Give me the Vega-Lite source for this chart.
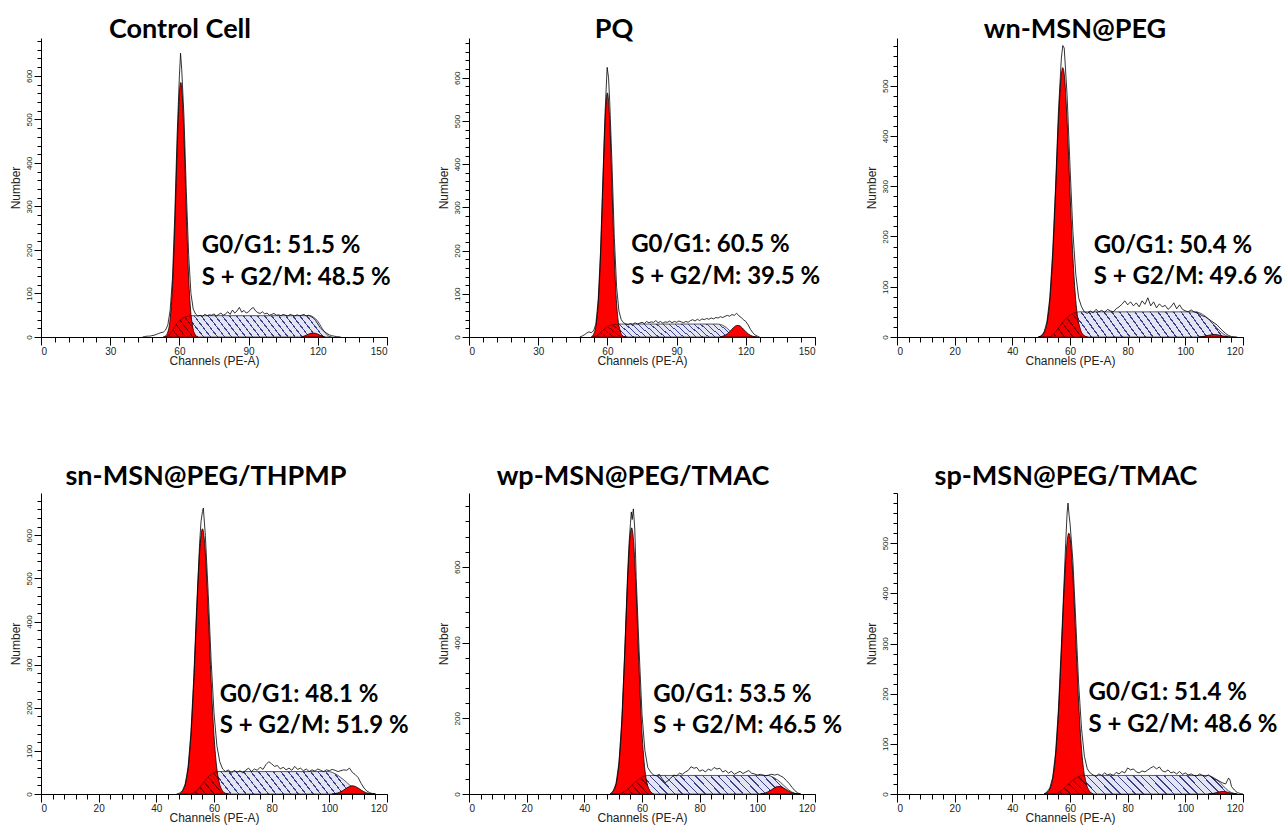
{
"$schema": "https://vega.github.io/schema/vega-lite/v6.json",
"background": "white",
"padding": {"left": 8, "top": 16, "right": 2, "bottom": 2},
"config": {
  "view": {"stroke": null},
  "axis": {"grid": false, "domainColor": "#000", "tickColor": "#000", "labelColor": "#222", "labelFont": "Liberation Sans", "titleFont": "Liberation Sans", "titleFontWeight": "normal", "titleColor": "#222", "domainWidth": 1, "tickWidth": 1, "labelOverlap": false},
  "title": {"font": "Lato", "fontSize": 27, "fontWeight": "bold", "color": "#000", "anchor": "middle", "offset": 2}
},
"datasets": {
"p1": [
{"part":"r","ch":44,"count":0},{"part":"r","ch":45,"count":1},{"part":"r","ch":46,"count":2},{"part":"r","ch":47,"count":2},{"part":"r","ch":48,"count":3},{"part":"r","ch":49,"count":4},{"part":"r","ch":50,"count":6},{"part":"r","ch":51,"count":8},{"part":"r","ch":52,"count":10},{"part":"r","ch":53,"count":11},{"part":"r","ch":54,"count":16},{"part":"r","ch":55,"count":28},{"part":"r","ch":56,"count":62},{"part":"r","ch":57,"count":135},{"part":"r","ch":58,"count":280},{"part":"r","ch":59,"count":460},{"part":"r","ch":60,"count":600},{"part":"r","ch":60.5,"count":652},{"part":"r","ch":61,"count":615},{"part":"r","ch":62,"count":505},{"part":"r","ch":63,"count":335},{"part":"r","ch":64,"count":190},{"part":"r","ch":65,"count":100},{"part":"r","ch":66,"count":64},{"part":"r","ch":67,"count":53},{"part":"r","ch":68,"count":48},{"part":"r","ch":69,"count":50},{"part":"r","ch":70,"count":47},{"part":"r","ch":71,"count":52},{"part":"r","ch":72,"count":49},{"part":"r","ch":73,"count":51},{"part":"r","ch":74,"count":50},{"part":"r","ch":75,"count":53},{"part":"r","ch":76,"count":48},{"part":"r","ch":77,"count":52},{"part":"r","ch":78,"count":55},{"part":"r","ch":79,"count":50},{"part":"r","ch":80,"count":53},{"part":"r","ch":81,"count":58},{"part":"r","ch":82,"count":52},{"part":"r","ch":83,"count":62},{"part":"r","ch":84,"count":55},{"part":"r","ch":85,"count":60},{"part":"r","ch":86,"count":68},{"part":"r","ch":87,"count":57},{"part":"r","ch":88,"count":61},{"part":"r","ch":89,"count":55},{"part":"r","ch":90,"count":58},{"part":"r","ch":91,"count":64},{"part":"r","ch":92,"count":68},{"part":"r","ch":93,"count":60},{"part":"r","ch":94,"count":56},{"part":"r","ch":95,"count":54},{"part":"r","ch":96,"count":58},{"part":"r","ch":97,"count":53},{"part":"r","ch":98,"count":55},{"part":"r","ch":99,"count":50},{"part":"r","ch":100,"count":52},{"part":"r","ch":101,"count":54},{"part":"r","ch":102,"count":50},{"part":"r","ch":103,"count":51},{"part":"r","ch":104,"count":49},{"part":"r","ch":105,"count":52},{"part":"r","ch":106,"count":50},{"part":"r","ch":107,"count":48},{"part":"r","ch":108,"count":52},{"part":"r","ch":109,"count":50},{"part":"r","ch":110,"count":48},{"part":"r","ch":111,"count":51},{"part":"r","ch":112,"count":49},{"part":"r","ch":113,"count":50},{"part":"r","ch":114,"count":52},{"part":"r","ch":115,"count":48},{"part":"r","ch":116,"count":50},{"part":"r","ch":117,"count":47},{"part":"r","ch":118,"count":44},{"part":"r","ch":119,"count":38},{"part":"r","ch":120,"count":30},{"part":"r","ch":121,"count":22},{"part":"r","ch":122,"count":16},{"part":"r","ch":123,"count":12},{"part":"r","ch":124,"count":8},{"part":"r","ch":125,"count":5},{"part":"r","ch":126,"count":3},{"part":"r","ch":128,"count":1},{"part":"r","ch":130,"count":0},
{"part":"s","ch":54,"count":0},{"part":"s","ch":55,"count":3},{"part":"s","ch":56,"count":8},{"part":"s","ch":57,"count":15},{"part":"s","ch":58,"count":24},{"part":"s","ch":59,"count":32},{"part":"s","ch":60,"count":38},{"part":"s","ch":61,"count":42},{"part":"s","ch":62,"count":45},{"part":"s","ch":63,"count":47},{"part":"s","ch":64,"count":48},{"part":"s","ch":65,"count":49},{"part":"s","ch":117,"count":49},{"part":"s","ch":118,"count":46},{"part":"s","ch":119,"count":42},{"part":"s","ch":120,"count":36},{"part":"s","ch":121,"count":28},{"part":"s","ch":122,"count":19},{"part":"s","ch":123,"count":11},{"part":"s","ch":124,"count":5},{"part":"s","ch":125,"count":1},{"part":"s","ch":126,"count":0},
{"part":"o","ch":54,"count":0},{"part":"o","ch":55,"count":3},{"part":"o","ch":56,"count":8},{"part":"o","ch":57,"count":15},{"part":"o","ch":58,"count":24},{"part":"o","ch":59,"count":32},{"part":"o","ch":60,"count":38},{"part":"o","ch":61,"count":42},{"part":"o","ch":62,"count":45},{"part":"o","ch":63,"count":47},{"part":"o","ch":64,"count":48},{"part":"o","ch":65,"count":49},{"part":"o","ch":66,"count":15},{"part":"o","ch":67,"count":3.5},{"part":"o","ch":68,"count":0},
{"part":"g1","ch":53,"count":0},{"part":"g1","ch":54,"count":2.5},{"part":"g1","ch":55,"count":11.6},{"part":"g1","ch":56,"count":41.5},{"part":"g1","ch":57,"count":115.8},{"part":"g1","ch":58,"count":251},{"part":"g1","ch":59,"count":425},{"part":"g1","ch":60,"count":559},{"part":"g1","ch":60.6,"count":585},{"part":"g1","ch":61,"count":573},{"part":"g1","ch":62,"count":458},{"part":"g1","ch":63,"count":285},{"part":"g1","ch":64,"count":138},{"part":"g1","ch":65,"count":52},{"part":"g1","ch":66,"count":15.3},{"part":"g1","ch":67,"count":3.5},{"part":"g1","ch":68,"count":0},
{"part":"g2","ch":113,"count":0},{"part":"g2","ch":114,"count":2},{"part":"g2","ch":115,"count":4},{"part":"g2","ch":116,"count":6.5},{"part":"g2","ch":117,"count":8.5},{"part":"g2","ch":118,"count":9},{"part":"g2","ch":119,"count":8.5},{"part":"g2","ch":120,"count":6.5},{"part":"g2","ch":121,"count":4},{"part":"g2","ch":122,"count":2},{"part":"g2","ch":123,"count":0},
{"part":"t","ch":69.7,"count":208,"label":"G0/G1: 51.5 %"},{"part":"t","ch":69.7,"count":136,"label":"S + G2/M: 48.5 %"}
],
"p2": [
{"part":"r","ch":48,"count":0},{"part":"r","ch":49,"count":2},{"part":"r","ch":50,"count":5},{"part":"r","ch":51,"count":9},{"part":"r","ch":52,"count":12},{"part":"r","ch":53,"count":10},{"part":"r","ch":54,"count":14},{"part":"r","ch":55,"count":30},{"part":"r","ch":56,"count":85},{"part":"r","ch":57,"count":195},{"part":"r","ch":58,"count":360},{"part":"r","ch":59,"count":520},{"part":"r","ch":59.9,"count":624},{"part":"r","ch":60.5,"count":600},{"part":"r","ch":61,"count":545},{"part":"r","ch":62,"count":400},{"part":"r","ch":63,"count":230},{"part":"r","ch":64,"count":115},{"part":"r","ch":65,"count":60},{"part":"r","ch":66,"count":40},{"part":"r","ch":67,"count":33},{"part":"r","ch":68,"count":30},{"part":"r","ch":69,"count":28},{"part":"r","ch":70,"count":31},{"part":"r","ch":71,"count":29},{"part":"r","ch":72,"count":33},{"part":"r","ch":73,"count":30},{"part":"r","ch":74,"count":32},{"part":"r","ch":75,"count":34},{"part":"r","ch":76,"count":31},{"part":"r","ch":77,"count":36},{"part":"r","ch":78,"count":33},{"part":"r","ch":79,"count":35},{"part":"r","ch":80,"count":34},{"part":"r","ch":81,"count":38},{"part":"r","ch":82,"count":33},{"part":"r","ch":83,"count":36},{"part":"r","ch":84,"count":32},{"part":"r","ch":85,"count":35},{"part":"r","ch":86,"count":34},{"part":"r","ch":87,"count":37},{"part":"r","ch":88,"count":33},{"part":"r","ch":89,"count":36},{"part":"r","ch":90,"count":34},{"part":"r","ch":91,"count":37},{"part":"r","ch":92,"count":35},{"part":"r","ch":93,"count":33},{"part":"r","ch":94,"count":36},{"part":"r","ch":95,"count":34},{"part":"r","ch":96,"count":38},{"part":"r","ch":97,"count":40},{"part":"r","ch":98,"count":37},{"part":"r","ch":99,"count":41},{"part":"r","ch":100,"count":38},{"part":"r","ch":101,"count":42},{"part":"r","ch":102,"count":40},{"part":"r","ch":103,"count":43},{"part":"r","ch":104,"count":41},{"part":"r","ch":105,"count":44},{"part":"r","ch":106,"count":42},{"part":"r","ch":107,"count":45},{"part":"r","ch":108,"count":44},{"part":"r","ch":109,"count":47},{"part":"r","ch":110,"count":45},{"part":"r","ch":111,"count":48},{"part":"r","ch":112,"count":50},{"part":"r","ch":113,"count":48},{"part":"r","ch":114,"count":52},{"part":"r","ch":115,"count":50},{"part":"r","ch":116,"count":55},{"part":"r","ch":117,"count":49},{"part":"r","ch":118,"count":45},{"part":"r","ch":119,"count":40},{"part":"r","ch":120,"count":36},{"part":"r","ch":121,"count":28},{"part":"r","ch":122,"count":18},{"part":"r","ch":123,"count":10},{"part":"r","ch":124,"count":5},{"part":"r","ch":125,"count":2},{"part":"r","ch":126,"count":0},
{"part":"s","ch":54,"count":0},{"part":"s","ch":55,"count":2},{"part":"s","ch":56,"count":5},{"part":"s","ch":57,"count":10},{"part":"s","ch":58,"count":15},{"part":"s","ch":59,"count":20},{"part":"s","ch":60,"count":24},{"part":"s","ch":61,"count":27},{"part":"s","ch":62,"count":28},{"part":"s","ch":63,"count":29},{"part":"s","ch":65,"count":30},{"part":"s","ch":108,"count":30},{"part":"s","ch":109,"count":29},{"part":"s","ch":110,"count":27},{"part":"s","ch":111,"count":24},{"part":"s","ch":112,"count":20},{"part":"s","ch":113,"count":15},{"part":"s","ch":114,"count":10},{"part":"s","ch":115,"count":6},{"part":"s","ch":116,"count":3},{"part":"s","ch":117,"count":1},{"part":"s","ch":118,"count":0},
{"part":"o","ch":54,"count":0},{"part":"o","ch":55,"count":2},{"part":"o","ch":56,"count":5},{"part":"o","ch":57,"count":10},{"part":"o","ch":58,"count":15},{"part":"o","ch":59,"count":20},{"part":"o","ch":60,"count":24},{"part":"o","ch":61,"count":27},{"part":"o","ch":62,"count":28},{"part":"o","ch":63,"count":29},{"part":"o","ch":64,"count":29.5},{"part":"o","ch":65,"count":24.8},{"part":"o","ch":66,"count":6.3},{"part":"o","ch":67,"count":1.2},{"part":"o","ch":68,"count":0},
{"part":"g1","ch":53,"count":0},{"part":"g1","ch":54,"count":6.3},{"part":"g1","ch":55,"count":24.8},{"part":"g1","ch":56,"count":76.5},{"part":"g1","ch":57,"count":183},{"part":"g1","ch":58,"count":343},{"part":"g1","ch":59,"count":499},{"part":"g1","ch":60,"count":565},{"part":"g1","ch":61,"count":499},{"part":"g1","ch":62,"count":343},{"part":"g1","ch":63,"count":183},{"part":"g1","ch":64,"count":76.5},{"part":"g1","ch":65,"count":24.8},{"part":"g1","ch":66,"count":6.3},{"part":"g1","ch":67,"count":1.2},{"part":"g1","ch":68,"count":0},
{"part":"g2","ch":109,"count":0},{"part":"g2","ch":110,"count":1.8},{"part":"g2","ch":111,"count":3.9},{"part":"g2","ch":112,"count":7.4},{"part":"g2","ch":113,"count":12.4},{"part":"g2","ch":114,"count":18.1},{"part":"g2","ch":115,"count":23.4},{"part":"g2","ch":116,"count":26.6},{"part":"g2","ch":117,"count":26.6},{"part":"g2","ch":118,"count":23.4},{"part":"g2","ch":119,"count":18.1},{"part":"g2","ch":120,"count":12.4},{"part":"g2","ch":121,"count":7.4},{"part":"g2","ch":122,"count":3.9},{"part":"g2","ch":123,"count":1.8},{"part":"g2","ch":124,"count":0.6},{"part":"g2","ch":125,"count":0},
{"part":"t","ch":70.3,"count":212,"label":"G0/G1: 60.5 %"},{"part":"t","ch":70.3,"count":139,"label":"S + G2/M: 39.5 %"}
],
"p3": [
{"part":"r","ch":49,"count":0},{"part":"r","ch":50,"count":2},{"part":"r","ch":51,"count":10},{"part":"r","ch":52,"count":30},{"part":"r","ch":53,"count":78},{"part":"r","ch":54,"count":170},{"part":"r","ch":55,"count":300},{"part":"r","ch":56,"count":450},{"part":"r","ch":57,"count":555},{"part":"r","ch":57.5,"count":580},{"part":"r","ch":58,"count":575},{"part":"r","ch":59,"count":480},{"part":"r","ch":60,"count":340},{"part":"r","ch":61,"count":210},{"part":"r","ch":62,"count":125},{"part":"r","ch":63,"count":78},{"part":"r","ch":64,"count":60},{"part":"r","ch":65,"count":50},{"part":"r","ch":66,"count":47},{"part":"r","ch":67,"count":52},{"part":"r","ch":68,"count":48},{"part":"r","ch":69,"count":55},{"part":"r","ch":70,"count":50},{"part":"r","ch":71,"count":53},{"part":"r","ch":72,"count":49},{"part":"r","ch":73,"count":55},{"part":"r","ch":74,"count":52},{"part":"r","ch":75,"count":50},{"part":"r","ch":76,"count":56},{"part":"r","ch":77,"count":60},{"part":"r","ch":78,"count":65},{"part":"r","ch":79,"count":72},{"part":"r","ch":80,"count":64},{"part":"r","ch":81,"count":70},{"part":"r","ch":82,"count":62},{"part":"r","ch":83,"count":68},{"part":"r","ch":84,"count":60},{"part":"r","ch":85,"count":72},{"part":"r","ch":86,"count":65},{"part":"r","ch":87,"count":78},{"part":"r","ch":88,"count":62},{"part":"r","ch":89,"count":70},{"part":"r","ch":90,"count":58},{"part":"r","ch":91,"count":66},{"part":"r","ch":92,"count":60},{"part":"r","ch":93,"count":63},{"part":"r","ch":94,"count":55},{"part":"r","ch":95,"count":60},{"part":"r","ch":96,"count":68},{"part":"r","ch":97,"count":56},{"part":"r","ch":98,"count":64},{"part":"r","ch":99,"count":55},{"part":"r","ch":100,"count":52},{"part":"r","ch":101,"count":50},{"part":"r","ch":102,"count":54},{"part":"r","ch":103,"count":50},{"part":"r","ch":104,"count":48},{"part":"r","ch":105,"count":45},{"part":"r","ch":106,"count":42},{"part":"r","ch":107,"count":40},{"part":"r","ch":108,"count":36},{"part":"r","ch":109,"count":32},{"part":"r","ch":110,"count":28},{"part":"r","ch":111,"count":24},{"part":"r","ch":112,"count":18},{"part":"r","ch":113,"count":12},{"part":"r","ch":114,"count":7},{"part":"r","ch":115,"count":3},{"part":"r","ch":116,"count":1},{"part":"r","ch":118,"count":0},
{"part":"s","ch":53,"count":0},{"part":"s","ch":54,"count":4},{"part":"s","ch":55,"count":10},{"part":"s","ch":56,"count":18},{"part":"s","ch":57,"count":26},{"part":"s","ch":58,"count":33},{"part":"s","ch":59,"count":39},{"part":"s","ch":60,"count":44},{"part":"s","ch":61,"count":47},{"part":"s","ch":62,"count":49},{"part":"s","ch":63,"count":50},{"part":"s","ch":104,"count":50},{"part":"s","ch":105,"count":48},{"part":"s","ch":106,"count":45},{"part":"s","ch":107,"count":41},{"part":"s","ch":108,"count":36},{"part":"s","ch":109,"count":30},{"part":"s","ch":110,"count":24},{"part":"s","ch":111,"count":18},{"part":"s","ch":112,"count":12},{"part":"s","ch":113,"count":7},{"part":"s","ch":114,"count":3},{"part":"s","ch":115,"count":1},{"part":"s","ch":116,"count":0},
{"part":"o","ch":53,"count":0},{"part":"o","ch":54,"count":4},{"part":"o","ch":55,"count":10},{"part":"o","ch":56,"count":18},{"part":"o","ch":57,"count":26},{"part":"o","ch":58,"count":33},{"part":"o","ch":59,"count":39},{"part":"o","ch":60,"count":44},{"part":"o","ch":61,"count":47},{"part":"o","ch":62,"count":49},{"part":"o","ch":63,"count":27},{"part":"o","ch":64,"count":8.3},{"part":"o","ch":65,"count":2.1},{"part":"o","ch":66,"count":0},
{"part":"g1","ch":49,"count":0},{"part":"g1","ch":50,"count":2.1},{"part":"g1","ch":51,"count":8.3},{"part":"g1","ch":52,"count":27},{"part":"g1","ch":53,"count":72.5},{"part":"g1","ch":54,"count":160},{"part":"g1","ch":55,"count":289},{"part":"g1","ch":56,"count":429},{"part":"g1","ch":57,"count":523},{"part":"g1","ch":57.5,"count":536},{"part":"g1","ch":58,"count":523},{"part":"g1","ch":59,"count":429},{"part":"g1","ch":60,"count":289},{"part":"g1","ch":61,"count":160},{"part":"g1","ch":62,"count":72.5},{"part":"g1","ch":63,"count":27},{"part":"g1","ch":64,"count":8.3},{"part":"g1","ch":65,"count":2.1},{"part":"g1","ch":66,"count":0},
{"part":"g2","ch":105,"count":0},{"part":"g2","ch":106,"count":1},{"part":"g2","ch":107,"count":2},{"part":"g2","ch":108,"count":3.3},{"part":"g2","ch":109,"count":4.5},{"part":"g2","ch":110,"count":5},{"part":"g2","ch":111,"count":4.5},{"part":"g2","ch":112,"count":3.3},{"part":"g2","ch":113,"count":2},{"part":"g2","ch":114,"count":1},{"part":"g2","ch":115,"count":0},
{"part":"t","ch":68.2,"count":182,"label":"G0/G1: 50.4 %"},{"part":"t","ch":68.2,"count":119,"label":"S + G2/M: 49.6 %"}
],
"p4": [
{"part":"r","ch":47,"count":0},{"part":"r","ch":48,"count":2},{"part":"r","ch":49,"count":7},{"part":"r","ch":50,"count":23},{"part":"r","ch":51,"count":62},{"part":"r","ch":52,"count":142},{"part":"r","ch":53,"count":272},{"part":"r","ch":54,"count":435},{"part":"r","ch":55,"count":580},{"part":"r","ch":55.5,"count":632},{"part":"r","ch":56,"count":655},{"part":"r","ch":56.3,"count":663},{"part":"r","ch":57,"count":600},{"part":"r","ch":58,"count":465},{"part":"r","ch":59,"count":310},{"part":"r","ch":60,"count":188},{"part":"r","ch":61,"count":112},{"part":"r","ch":62,"count":75},{"part":"r","ch":63,"count":58},{"part":"r","ch":64,"count":52},{"part":"r","ch":65,"count":56},{"part":"r","ch":66,"count":48},{"part":"r","ch":67,"count":55},{"part":"r","ch":68,"count":50},{"part":"r","ch":69,"count":54},{"part":"r","ch":70,"count":49},{"part":"r","ch":71,"count":55},{"part":"r","ch":72,"count":60},{"part":"r","ch":73,"count":52},{"part":"r","ch":74,"count":58},{"part":"r","ch":75,"count":55},{"part":"r","ch":76,"count":62},{"part":"r","ch":77,"count":57},{"part":"r","ch":78,"count":68},{"part":"r","ch":79,"count":75},{"part":"r","ch":80,"count":70},{"part":"r","ch":81,"count":64},{"part":"r","ch":82,"count":66},{"part":"r","ch":83,"count":58},{"part":"r","ch":84,"count":62},{"part":"r","ch":85,"count":56},{"part":"r","ch":86,"count":60},{"part":"r","ch":87,"count":55},{"part":"r","ch":88,"count":64},{"part":"r","ch":89,"count":57},{"part":"r","ch":90,"count":60},{"part":"r","ch":91,"count":54},{"part":"r","ch":92,"count":58},{"part":"r","ch":93,"count":52},{"part":"r","ch":94,"count":56},{"part":"r","ch":95,"count":53},{"part":"r","ch":96,"count":58},{"part":"r","ch":97,"count":55},{"part":"r","ch":98,"count":52},{"part":"r","ch":99,"count":56},{"part":"r","ch":100,"count":54},{"part":"r","ch":101,"count":57},{"part":"r","ch":102,"count":55},{"part":"r","ch":103,"count":52},{"part":"r","ch":104,"count":54},{"part":"r","ch":105,"count":56},{"part":"r","ch":106,"count":55},{"part":"r","ch":107,"count":60},{"part":"r","ch":108,"count":50},{"part":"r","ch":109,"count":45},{"part":"r","ch":110,"count":38},{"part":"r","ch":111,"count":25},{"part":"r","ch":112,"count":14},{"part":"r","ch":113,"count":7},{"part":"r","ch":114,"count":3},{"part":"r","ch":115,"count":1},{"part":"r","ch":116,"count":0},
{"part":"s","ch":52,"count":0},{"part":"s","ch":53,"count":3},{"part":"s","ch":54,"count":8},{"part":"s","ch":55,"count":15},{"part":"s","ch":56,"count":24},{"part":"s","ch":57,"count":32},{"part":"s","ch":58,"count":40},{"part":"s","ch":59,"count":46},{"part":"s","ch":60,"count":50},{"part":"s","ch":61,"count":52},{"part":"s","ch":100,"count":52},{"part":"s","ch":101,"count":50},{"part":"s","ch":102,"count":47},{"part":"s","ch":103,"count":43},{"part":"s","ch":104,"count":38},{"part":"s","ch":105,"count":33},{"part":"s","ch":106,"count":27},{"part":"s","ch":107,"count":21},{"part":"s","ch":108,"count":16},{"part":"s","ch":109,"count":11},{"part":"s","ch":110,"count":7},{"part":"s","ch":111,"count":4},{"part":"s","ch":112,"count":2},{"part":"s","ch":113,"count":0},
{"part":"o","ch":52,"count":0},{"part":"o","ch":53,"count":3},{"part":"o","ch":54,"count":8},{"part":"o","ch":55,"count":15},{"part":"o","ch":56,"count":24},{"part":"o","ch":57,"count":32},{"part":"o","ch":58,"count":40},{"part":"o","ch":59,"count":46},{"part":"o","ch":60,"count":50},{"part":"o","ch":61,"count":52},{"part":"o","ch":62,"count":20.5},{"part":"o","ch":63,"count":6},{"part":"o","ch":64,"count":1.4},{"part":"o","ch":65,"count":0},
{"part":"g1","ch":48,"count":0},{"part":"g1","ch":49,"count":6},{"part":"g1","ch":50,"count":20.5},{"part":"g1","ch":51,"count":57.9},{"part":"g1","ch":52,"count":135.6},{"part":"g1","ch":53,"count":262.7},{"part":"g1","ch":54,"count":421},{"part":"g1","ch":55,"count":559.5},{"part":"g1","ch":56,"count":615},{"part":"g1","ch":57,"count":559.5},{"part":"g1","ch":58,"count":421},{"part":"g1","ch":59,"count":262.7},{"part":"g1","ch":60,"count":135.6},{"part":"g1","ch":61,"count":57.9},{"part":"g1","ch":62,"count":20.5},{"part":"g1","ch":63,"count":6},{"part":"g1","ch":64,"count":1.4},{"part":"g1","ch":65,"count":0},
{"part":"g2","ch":101,"count":0},{"part":"g2","ch":102,"count":1.1},{"part":"g2","ch":103,"count":2.6},{"part":"g2","ch":104,"count":5.3},{"part":"g2","ch":105,"count":9.2},{"part":"g2","ch":106,"count":13.8},{"part":"g2","ch":107,"count":17.5},{"part":"g2","ch":108,"count":19},{"part":"g2","ch":109,"count":17.5},{"part":"g2","ch":110,"count":13.8},{"part":"g2","ch":111,"count":9.2},{"part":"g2","ch":112,"count":5.3},{"part":"g2","ch":113,"count":2.6},{"part":"g2","ch":114,"count":1.1},{"part":"g2","ch":115,"count":0.4},{"part":"g2","ch":116,"count":0},
{"part":"t","ch":62,"count":230,"label":"G0/G1: 48.1 %"},{"part":"t","ch":62,"count":157,"label":"S + G2/M: 51.9 %"}
],
"p5": [
{"part":"r","ch":49,"count":0},{"part":"r","ch":50,"count":8},{"part":"r","ch":51,"count":28},{"part":"r","ch":52,"count":82},{"part":"r","ch":53,"count":195},{"part":"r","ch":54,"count":375},{"part":"r","ch":55,"count":580},{"part":"r","ch":55.5,"count":660},{"part":"r","ch":56,"count":715},{"part":"r","ch":56.3,"count":745},{"part":"r","ch":56.6,"count":725},{"part":"r","ch":57,"count":753},{"part":"r","ch":57.5,"count":700},{"part":"r","ch":58,"count":570},{"part":"r","ch":59,"count":380},{"part":"r","ch":60,"count":210},{"part":"r","ch":61,"count":115},{"part":"r","ch":62,"count":70},{"part":"r","ch":63,"count":58},{"part":"r","ch":64,"count":50},{"part":"r","ch":65,"count":48},{"part":"r","ch":66,"count":52},{"part":"r","ch":67,"count":40},{"part":"r","ch":68,"count":30},{"part":"r","ch":69,"count":35},{"part":"r","ch":70,"count":42},{"part":"r","ch":71,"count":50},{"part":"r","ch":72,"count":48},{"part":"r","ch":73,"count":55},{"part":"r","ch":74,"count":52},{"part":"r","ch":75,"count":58},{"part":"r","ch":76,"count":62},{"part":"r","ch":77,"count":72},{"part":"r","ch":78,"count":68},{"part":"r","ch":79,"count":70},{"part":"r","ch":80,"count":60},{"part":"r","ch":81,"count":64},{"part":"r","ch":82,"count":58},{"part":"r","ch":83,"count":66},{"part":"r","ch":84,"count":62},{"part":"r","ch":85,"count":70},{"part":"r","ch":86,"count":66},{"part":"r","ch":87,"count":68},{"part":"r","ch":88,"count":58},{"part":"r","ch":89,"count":62},{"part":"r","ch":90,"count":55},{"part":"r","ch":91,"count":60},{"part":"r","ch":92,"count":52},{"part":"r","ch":93,"count":56},{"part":"r","ch":94,"count":60},{"part":"r","ch":95,"count":54},{"part":"r","ch":96,"count":58},{"part":"r","ch":97,"count":62},{"part":"r","ch":98,"count":55},{"part":"r","ch":99,"count":53},{"part":"r","ch":100,"count":50},{"part":"r","ch":101,"count":52},{"part":"r","ch":102,"count":50},{"part":"r","ch":103,"count":48},{"part":"r","ch":104,"count":50},{"part":"r","ch":105,"count":52},{"part":"r","ch":106,"count":50},{"part":"r","ch":107,"count":52},{"part":"r","ch":108,"count":48},{"part":"r","ch":109,"count":44},{"part":"r","ch":110,"count":36},{"part":"r","ch":111,"count":28},{"part":"r","ch":112,"count":18},{"part":"r","ch":113,"count":9},{"part":"r","ch":114,"count":3},{"part":"r","ch":115,"count":0},
{"part":"s","ch":52,"count":0},{"part":"s","ch":53,"count":3},{"part":"s","ch":54,"count":7},{"part":"s","ch":55,"count":13},{"part":"s","ch":56,"count":20},{"part":"s","ch":57,"count":27},{"part":"s","ch":58,"count":34},{"part":"s","ch":59,"count":40},{"part":"s","ch":60,"count":45},{"part":"s","ch":61,"count":48},{"part":"s","ch":62,"count":49},{"part":"s","ch":104,"count":49},{"part":"s","ch":105,"count":46},{"part":"s","ch":106,"count":42},{"part":"s","ch":107,"count":37},{"part":"s","ch":108,"count":31},{"part":"s","ch":109,"count":24},{"part":"s","ch":110,"count":17},{"part":"s","ch":111,"count":10},{"part":"s","ch":112,"count":5},{"part":"s","ch":113,"count":2},{"part":"s","ch":114,"count":0},
{"part":"o","ch":52,"count":0},{"part":"o","ch":53,"count":3},{"part":"o","ch":54,"count":7},{"part":"o","ch":55,"count":13},{"part":"o","ch":56,"count":20},{"part":"o","ch":57,"count":27},{"part":"o","ch":58,"count":34},{"part":"o","ch":59,"count":40},{"part":"o","ch":60,"count":45},{"part":"o","ch":61,"count":48},{"part":"o","ch":62,"count":20},{"part":"o","ch":63,"count":5},{"part":"o","ch":64,"count":0},
{"part":"g1","ch":49,"count":0},{"part":"g1","ch":50,"count":6.8},{"part":"g1","ch":51,"count":25.8},{"part":"g1","ch":52,"count":78.3},{"part":"g1","ch":53,"count":189.5},{"part":"g1","ch":54,"count":366},{"part":"g1","ch":55,"count":563},{"part":"g1","ch":56,"count":690},{"part":"g1","ch":56.4,"count":703},{"part":"g1","ch":57,"count":675},{"part":"g1","ch":58,"count":526},{"part":"g1","ch":59,"count":327},{"part":"g1","ch":60,"count":162},{"part":"g1","ch":61,"count":63.8},{"part":"g1","ch":62,"count":20},{"part":"g1","ch":63,"count":5},{"part":"g1","ch":64,"count":0},
{"part":"g2","ch":101,"count":0},{"part":"g2","ch":102,"count":1.4},{"part":"g2","ch":103,"count":3.4},{"part":"g2","ch":104,"count":6.9},{"part":"g2","ch":105,"count":11.6},{"part":"g2","ch":106,"count":16.5},{"part":"g2","ch":107,"count":19.6},{"part":"g2","ch":108,"count":19.6},{"part":"g2","ch":109,"count":16.5},{"part":"g2","ch":110,"count":11.6},{"part":"g2","ch":111,"count":6.9},{"part":"g2","ch":112,"count":3.4},{"part":"g2","ch":113,"count":1.4},{"part":"g2","ch":114,"count":0.5},{"part":"g2","ch":115,"count":0},
{"part":"t","ch":63.9,"count":262,"label":"G0/G1: 53.5 %"},{"part":"t","ch":63.9,"count":179,"label":"S + G2/M: 46.5 %"}
],
"p6": [
{"part":"r","ch":51,"count":0},{"part":"r","ch":52,"count":4},{"part":"r","ch":53,"count":12},{"part":"r","ch":54,"count":33},{"part":"r","ch":55,"count":82},{"part":"r","ch":56,"count":170},{"part":"r","ch":57,"count":295},{"part":"r","ch":58,"count":430},{"part":"r","ch":58.5,"count":500},{"part":"r","ch":59,"count":560},{"part":"r","ch":59.3,"count":580},{"part":"r","ch":59.7,"count":555},{"part":"r","ch":60,"count":540},{"part":"r","ch":61,"count":465},{"part":"r","ch":62,"count":345},{"part":"r","ch":63,"count":220},{"part":"r","ch":64,"count":130},{"part":"r","ch":65,"count":75},{"part":"r","ch":66,"count":50},{"part":"r","ch":67,"count":42},{"part":"r","ch":68,"count":38},{"part":"r","ch":69,"count":35},{"part":"r","ch":70,"count":40},{"part":"r","ch":71,"count":37},{"part":"r","ch":72,"count":42},{"part":"r","ch":73,"count":38},{"part":"r","ch":74,"count":40},{"part":"r","ch":75,"count":37},{"part":"r","ch":76,"count":43},{"part":"r","ch":77,"count":40},{"part":"r","ch":78,"count":45},{"part":"r","ch":79,"count":42},{"part":"r","ch":80,"count":52},{"part":"r","ch":81,"count":48},{"part":"r","ch":82,"count":50},{"part":"r","ch":83,"count":44},{"part":"r","ch":84,"count":42},{"part":"r","ch":85,"count":46},{"part":"r","ch":86,"count":44},{"part":"r","ch":87,"count":48},{"part":"r","ch":88,"count":52},{"part":"r","ch":89,"count":55},{"part":"r","ch":90,"count":50},{"part":"r","ch":91,"count":54},{"part":"r","ch":92,"count":46},{"part":"r","ch":93,"count":44},{"part":"r","ch":94,"count":48},{"part":"r","ch":95,"count":42},{"part":"r","ch":96,"count":44},{"part":"r","ch":97,"count":40},{"part":"r","ch":98,"count":45},{"part":"r","ch":99,"count":39},{"part":"r","ch":100,"count":42},{"part":"r","ch":101,"count":38},{"part":"r","ch":102,"count":40},{"part":"r","ch":103,"count":37},{"part":"r","ch":104,"count":36},{"part":"r","ch":105,"count":40},{"part":"r","ch":106,"count":37},{"part":"r","ch":107,"count":35},{"part":"r","ch":108,"count":38},{"part":"r","ch":109,"count":34},{"part":"r","ch":110,"count":30},{"part":"r","ch":111,"count":28},{"part":"r","ch":112,"count":25},{"part":"r","ch":113,"count":22},{"part":"r","ch":114,"count":20},{"part":"r","ch":115,"count":32},{"part":"r","ch":115.5,"count":28},{"part":"r","ch":116,"count":15},{"part":"r","ch":117,"count":8},{"part":"r","ch":118,"count":3},{"part":"r","ch":119,"count":1},{"part":"r","ch":120,"count":0},
{"part":"s","ch":55,"count":0},{"part":"s","ch":56,"count":3},{"part":"s","ch":57,"count":7},{"part":"s","ch":58,"count":12},{"part":"s","ch":59,"count":18},{"part":"s","ch":60,"count":23},{"part":"s","ch":61,"count":28},{"part":"s","ch":62,"count":32},{"part":"s","ch":63,"count":35},{"part":"s","ch":64,"count":37},{"part":"s","ch":108,"count":37},{"part":"s","ch":109,"count":35},{"part":"s","ch":110,"count":32},{"part":"s","ch":111,"count":28},{"part":"s","ch":112,"count":23},{"part":"s","ch":113,"count":17},{"part":"s","ch":114,"count":11},{"part":"s","ch":115,"count":6},{"part":"s","ch":116,"count":3},{"part":"s","ch":117,"count":1},{"part":"s","ch":118,"count":0},
{"part":"o","ch":55,"count":0},{"part":"o","ch":56,"count":3},{"part":"o","ch":57,"count":7},{"part":"o","ch":58,"count":12},{"part":"o","ch":59,"count":18},{"part":"o","ch":60,"count":23},{"part":"o","ch":61,"count":28},{"part":"o","ch":62,"count":32},{"part":"o","ch":63,"count":35},{"part":"o","ch":64,"count":37},{"part":"o","ch":65,"count":37},{"part":"o","ch":66,"count":12.8},{"part":"o","ch":67,"count":3.6},{"part":"o","ch":68,"count":0},
{"part":"g1","ch":51,"count":0},{"part":"g1","ch":52,"count":2.8},{"part":"g1","ch":53,"count":10},{"part":"g1","ch":54,"count":30.4},{"part":"g1","ch":55,"count":76.5},{"part":"g1","ch":56,"count":160.8},{"part":"g1","ch":57,"count":282},{"part":"g1","ch":58,"count":412},{"part":"g1","ch":59,"count":503},{"part":"g1","ch":59.6,"count":520},{"part":"g1","ch":60,"count":512.5},{"part":"g1","ch":61,"count":435},{"part":"g1","ch":62,"count":308.7},{"part":"g1","ch":63,"count":182.6},{"part":"g1","ch":64,"count":90},{"part":"g1","ch":65,"count":37},{"part":"g1","ch":66,"count":12.8},{"part":"g1","ch":67,"count":3.6},{"part":"g1","ch":68,"count":0},
{"part":"g2","ch":108,"count":0},{"part":"g2","ch":109,"count":0.7},{"part":"g2","ch":110,"count":1.6},{"part":"g2","ch":111,"count":3},{"part":"g2","ch":112,"count":4.4},{"part":"g2","ch":113,"count":5},{"part":"g2","ch":114,"count":4.4},{"part":"g2","ch":115,"count":3},{"part":"g2","ch":116,"count":1.6},{"part":"g2","ch":117,"count":0.7},{"part":"g2","ch":118,"count":0},
{"part":"t","ch":66.4,"count":201,"label":"G0/G1: 51.4 %"},{"part":"t","ch":66.4,"count":138,"label":"S + G2/M: 48.6 %"}
]
},
"columns": 3,
"spacing": {"row": 156, "column": 82},
"bounds": "flush",
"concat": [
{
"width": 346, "height": 299, "data": {"name": "p1"}, "title": {"text": "Control Cell", "dx": -34, "offset": -6},
"resolve": {"axis": {"x": "independent", "y": "independent"}},
"layer": [
{"transform": [{"filter": "datum.part === 's'"}], "mark": {"type": "area", "stroke": "#333", "strokeWidth": 0.8, "fill": {"gradient": "linear", "x1": 0, "y1": 0.55, "x2": 1, "y2": 0.45, "stops": [{"offset": 0, "color": "#e3e5f4"},{"offset": 0.010, "color": "#e3e5f4"},{"offset": 0.010, "color": "#3a3f8e"},{"offset": 0.018, "color": "#3a3f8e"},{"offset": 0.018, "color": "#e3e5f4"},{"offset": 0.052, "color": "#e3e5f4"},{"offset": 0.052, "color": "#3a3f8e"},{"offset": 0.060, "color": "#3a3f8e"},{"offset": 0.060, "color": "#e3e5f4"},{"offset": 0.094, "color": "#e3e5f4"},{"offset": 0.094, "color": "#3a3f8e"},{"offset": 0.102, "color": "#3a3f8e"},{"offset": 0.102, "color": "#e3e5f4"},{"offset": 0.136, "color": "#e3e5f4"},{"offset": 0.136, "color": "#3a3f8e"},{"offset": 0.144, "color": "#3a3f8e"},{"offset": 0.144, "color": "#e3e5f4"},{"offset": 0.178, "color": "#e3e5f4"},{"offset": 0.178, "color": "#3a3f8e"},{"offset": 0.186, "color": "#3a3f8e"},{"offset": 0.186, "color": "#e3e5f4"},{"offset": 0.220, "color": "#e3e5f4"},{"offset": 0.220, "color": "#3a3f8e"},{"offset": 0.228, "color": "#3a3f8e"},{"offset": 0.228, "color": "#e3e5f4"},{"offset": 0.262, "color": "#e3e5f4"},{"offset": 0.262, "color": "#3a3f8e"},{"offset": 0.270, "color": "#3a3f8e"},{"offset": 0.270, "color": "#e3e5f4"},{"offset": 0.304, "color": "#e3e5f4"},{"offset": 0.304, "color": "#3a3f8e"},{"offset": 0.312, "color": "#3a3f8e"},{"offset": 0.312, "color": "#e3e5f4"},{"offset": 0.346, "color": "#e3e5f4"},{"offset": 0.346, "color": "#3a3f8e"},{"offset": 0.354, "color": "#3a3f8e"},{"offset": 0.354, "color": "#e3e5f4"},{"offset": 0.388, "color": "#e3e5f4"},{"offset": 0.388, "color": "#3a3f8e"},{"offset": 0.396, "color": "#3a3f8e"},{"offset": 0.396, "color": "#e3e5f4"},{"offset": 0.430, "color": "#e3e5f4"},{"offset": 0.430, "color": "#3a3f8e"},{"offset": 0.438, "color": "#3a3f8e"},{"offset": 0.438, "color": "#e3e5f4"},{"offset": 0.472, "color": "#e3e5f4"},{"offset": 0.472, "color": "#3a3f8e"},{"offset": 0.480, "color": "#3a3f8e"},{"offset": 0.480, "color": "#e3e5f4"},{"offset": 0.514, "color": "#e3e5f4"},{"offset": 0.514, "color": "#3a3f8e"},{"offset": 0.522, "color": "#3a3f8e"},{"offset": 0.522, "color": "#e3e5f4"},{"offset": 0.556, "color": "#e3e5f4"},{"offset": 0.556, "color": "#3a3f8e"},{"offset": 0.564, "color": "#3a3f8e"},{"offset": 0.564, "color": "#e3e5f4"},{"offset": 0.598, "color": "#e3e5f4"},{"offset": 0.598, "color": "#3a3f8e"},{"offset": 0.606, "color": "#3a3f8e"},{"offset": 0.606, "color": "#e3e5f4"},{"offset": 0.640, "color": "#e3e5f4"},{"offset": 0.640, "color": "#3a3f8e"},{"offset": 0.648, "color": "#3a3f8e"},{"offset": 0.648, "color": "#e3e5f4"},{"offset": 0.682, "color": "#e3e5f4"},{"offset": 0.682, "color": "#3a3f8e"},{"offset": 0.690, "color": "#3a3f8e"},{"offset": 0.690, "color": "#e3e5f4"},{"offset": 0.724, "color": "#e3e5f4"},{"offset": 0.724, "color": "#3a3f8e"},{"offset": 0.732, "color": "#3a3f8e"},{"offset": 0.732, "color": "#e3e5f4"},{"offset": 0.766, "color": "#e3e5f4"},{"offset": 0.766, "color": "#3a3f8e"},{"offset": 0.774, "color": "#3a3f8e"},{"offset": 0.774, "color": "#e3e5f4"},{"offset": 0.808, "color": "#e3e5f4"},{"offset": 0.808, "color": "#3a3f8e"},{"offset": 0.816, "color": "#3a3f8e"},{"offset": 0.816, "color": "#e3e5f4"},{"offset": 0.850, "color": "#e3e5f4"},{"offset": 0.850, "color": "#3a3f8e"},{"offset": 0.858, "color": "#3a3f8e"},{"offset": 0.858, "color": "#e3e5f4"},{"offset": 0.892, "color": "#e3e5f4"},{"offset": 0.892, "color": "#3a3f8e"},{"offset": 0.900, "color": "#3a3f8e"},{"offset": 0.900, "color": "#e3e5f4"},{"offset": 0.934, "color": "#e3e5f4"},{"offset": 0.934, "color": "#3a3f8e"},{"offset": 0.942, "color": "#3a3f8e"},{"offset": 0.942, "color": "#e3e5f4"},{"offset": 0.976, "color": "#e3e5f4"},{"offset": 0.976, "color": "#3a3f8e"},{"offset": 0.984, "color": "#3a3f8e"},{"offset": 0.984, "color": "#e3e5f4"},{"offset": 1, "color": "#e3e5f4"}]}}, "encoding": {"x": {"field": "ch", "type": "quantitative", "scale": {"domain": [0, 150], "nice": false}, "axis": {"orient": "bottom", "values": [0,6,12,18,24,30,36,42,48,54,60,66,72,78,84,90,96,102,108,114,120,126,132,138,144,150], "labels": false, "title": null, "tickSize": 5, "domain": false}}, "y": {"field": "count", "type": "quantitative", "stack": null, "scale": {"domain": [0, 687], "nice": false}, "axis": {"orient": "left", "values": [0,20,40,60,80,100,120,140,160,180,200,220,240,260,280,300,320,340,360,380,400,420,440,460,480,500,520,540,560,580,600,620,640,660,680], "labels": false, "title": null, "tickSize": 4, "domain": false}}}},
{"transform": [{"filter": "datum.part === 'g1'"}], "mark": {"type": "area", "fill": "#ff0000", "stroke": "#000", "strokeWidth": 0.8, "interpolate": "monotone"}, "encoding": {"x": {"field": "ch", "type": "quantitative", "axis": null}, "y": {"field": "count", "type": "quantitative", "stack": null, "axis": null}}},
{"transform": [{"filter": "datum.part === 'o'"}], "mark": {"type": "area", "stroke": "#4a0000", "strokeWidth": 0.6, "fill": {"gradient": "linear", "x1": 0, "y1": 0.75, "x2": 1, "y2": 0.25, "stops": [{"offset": 0, "color": "#f00000"},{"offset": 0.02, "color": "#f00000"},{"offset": 0.02, "color": "#7a0000"},{"offset": 0.05, "color": "#7a0000"},{"offset": 0.05, "color": "#f00000"},{"offset": 0.20, "color": "#f00000"},{"offset": 0.20, "color": "#7a0000"},{"offset": 0.23, "color": "#7a0000"},{"offset": 0.23, "color": "#f00000"},{"offset": 0.38, "color": "#f00000"},{"offset": 0.38, "color": "#7a0000"},{"offset": 0.41, "color": "#7a0000"},{"offset": 0.41, "color": "#f00000"},{"offset": 0.56, "color": "#f00000"},{"offset": 0.56, "color": "#7a0000"},{"offset": 0.59, "color": "#7a0000"},{"offset": 0.59, "color": "#f00000"},{"offset": 0.74, "color": "#f00000"},{"offset": 0.74, "color": "#7a0000"},{"offset": 0.77, "color": "#7a0000"},{"offset": 0.77, "color": "#f00000"},{"offset": 0.92, "color": "#f00000"},{"offset": 0.92, "color": "#7a0000"},{"offset": 0.95, "color": "#7a0000"},{"offset": 0.95, "color": "#f00000"},{"offset": 1, "color": "#f00000"}]}}, "encoding": {"x": {"field": "ch", "type": "quantitative", "axis": null}, "y": {"field": "count", "type": "quantitative", "stack": null, "axis": null}}},
{"transform": [{"filter": "datum.part === 'g2'"}], "mark": {"type": "area", "fill": "#ff0000", "stroke": "#000", "strokeWidth": 0.8, "interpolate": "monotone"}, "encoding": {"x": {"field": "ch", "type": "quantitative", "axis": null}, "y": {"field": "count", "type": "quantitative", "stack": null, "axis": null}}},
{"transform": [{"filter": "datum.part === 'r'"}], "mark": {"type": "line", "color": "#000", "strokeWidth": 0.8}, "encoding": {"x": {"field": "ch", "type": "quantitative", "axis": {"orient": "bottom", "values": [0,30,60,90,120,150], "title": "Channels (PE-A)", "tickSize": 8, "labelFontSize": 10, "labelPadding": 1, "titleFontSize": 12, "titlePadding": -1}}, "y": {"field": "count", "type": "quantitative", "axis": {"orient": "left", "values": [0,100,200,300,400,500,600], "title": "Number", "tickSize": 7, "labelAngle": -90, "labelAlign": "center", "labelBaseline": "bottom", "labelFontSize": 8, "labelPadding": 1, "titleFontSize": 12, "titlePadding": 3}}}},
{"transform": [{"filter": "datum.part === 't'"}], "mark": {"type": "text", "align": "left", "baseline": "middle", "font": "Lato", "fontSize": 24, "fontWeight": "bold", "color": "#000"}, "encoding": {"x": {"field": "ch", "type": "quantitative", "axis": null}, "y": {"field": "count", "type": "quantitative", "axis": null}, "text": {"field": "label"}}}
]
},
{
"width": 346, "height": 299, "data": {"name": "p2"}, "title": {"text": "PQ", "dx": -28, "offset": -6},
"resolve": {"axis": {"x": "independent", "y": "independent"}},
"layer": [
{"transform": [{"filter": "datum.part === 's'"}], "mark": {"type": "area", "stroke": "#333", "strokeWidth": 0.8, "fill": {"gradient": "linear", "x1": 0, "y1": 0.55, "x2": 1, "y2": 0.45, "stops": [{"offset": 0, "color": "#e3e5f4"},{"offset": 0.010, "color": "#e3e5f4"},{"offset": 0.010, "color": "#3a3f8e"},{"offset": 0.018, "color": "#3a3f8e"},{"offset": 0.018, "color": "#e3e5f4"},{"offset": 0.052, "color": "#e3e5f4"},{"offset": 0.052, "color": "#3a3f8e"},{"offset": 0.060, "color": "#3a3f8e"},{"offset": 0.060, "color": "#e3e5f4"},{"offset": 0.094, "color": "#e3e5f4"},{"offset": 0.094, "color": "#3a3f8e"},{"offset": 0.102, "color": "#3a3f8e"},{"offset": 0.102, "color": "#e3e5f4"},{"offset": 0.136, "color": "#e3e5f4"},{"offset": 0.136, "color": "#3a3f8e"},{"offset": 0.144, "color": "#3a3f8e"},{"offset": 0.144, "color": "#e3e5f4"},{"offset": 0.178, "color": "#e3e5f4"},{"offset": 0.178, "color": "#3a3f8e"},{"offset": 0.186, "color": "#3a3f8e"},{"offset": 0.186, "color": "#e3e5f4"},{"offset": 0.220, "color": "#e3e5f4"},{"offset": 0.220, "color": "#3a3f8e"},{"offset": 0.228, "color": "#3a3f8e"},{"offset": 0.228, "color": "#e3e5f4"},{"offset": 0.262, "color": "#e3e5f4"},{"offset": 0.262, "color": "#3a3f8e"},{"offset": 0.270, "color": "#3a3f8e"},{"offset": 0.270, "color": "#e3e5f4"},{"offset": 0.304, "color": "#e3e5f4"},{"offset": 0.304, "color": "#3a3f8e"},{"offset": 0.312, "color": "#3a3f8e"},{"offset": 0.312, "color": "#e3e5f4"},{"offset": 0.346, "color": "#e3e5f4"},{"offset": 0.346, "color": "#3a3f8e"},{"offset": 0.354, "color": "#3a3f8e"},{"offset": 0.354, "color": "#e3e5f4"},{"offset": 0.388, "color": "#e3e5f4"},{"offset": 0.388, "color": "#3a3f8e"},{"offset": 0.396, "color": "#3a3f8e"},{"offset": 0.396, "color": "#e3e5f4"},{"offset": 0.430, "color": "#e3e5f4"},{"offset": 0.430, "color": "#3a3f8e"},{"offset": 0.438, "color": "#3a3f8e"},{"offset": 0.438, "color": "#e3e5f4"},{"offset": 0.472, "color": "#e3e5f4"},{"offset": 0.472, "color": "#3a3f8e"},{"offset": 0.480, "color": "#3a3f8e"},{"offset": 0.480, "color": "#e3e5f4"},{"offset": 0.514, "color": "#e3e5f4"},{"offset": 0.514, "color": "#3a3f8e"},{"offset": 0.522, "color": "#3a3f8e"},{"offset": 0.522, "color": "#e3e5f4"},{"offset": 0.556, "color": "#e3e5f4"},{"offset": 0.556, "color": "#3a3f8e"},{"offset": 0.564, "color": "#3a3f8e"},{"offset": 0.564, "color": "#e3e5f4"},{"offset": 0.598, "color": "#e3e5f4"},{"offset": 0.598, "color": "#3a3f8e"},{"offset": 0.606, "color": "#3a3f8e"},{"offset": 0.606, "color": "#e3e5f4"},{"offset": 0.640, "color": "#e3e5f4"},{"offset": 0.640, "color": "#3a3f8e"},{"offset": 0.648, "color": "#3a3f8e"},{"offset": 0.648, "color": "#e3e5f4"},{"offset": 0.682, "color": "#e3e5f4"},{"offset": 0.682, "color": "#3a3f8e"},{"offset": 0.690, "color": "#3a3f8e"},{"offset": 0.690, "color": "#e3e5f4"},{"offset": 0.724, "color": "#e3e5f4"},{"offset": 0.724, "color": "#3a3f8e"},{"offset": 0.732, "color": "#3a3f8e"},{"offset": 0.732, "color": "#e3e5f4"},{"offset": 0.766, "color": "#e3e5f4"},{"offset": 0.766, "color": "#3a3f8e"},{"offset": 0.774, "color": "#3a3f8e"},{"offset": 0.774, "color": "#e3e5f4"},{"offset": 0.808, "color": "#e3e5f4"},{"offset": 0.808, "color": "#3a3f8e"},{"offset": 0.816, "color": "#3a3f8e"},{"offset": 0.816, "color": "#e3e5f4"},{"offset": 0.850, "color": "#e3e5f4"},{"offset": 0.850, "color": "#3a3f8e"},{"offset": 0.858, "color": "#3a3f8e"},{"offset": 0.858, "color": "#e3e5f4"},{"offset": 0.892, "color": "#e3e5f4"},{"offset": 0.892, "color": "#3a3f8e"},{"offset": 0.900, "color": "#3a3f8e"},{"offset": 0.900, "color": "#e3e5f4"},{"offset": 0.934, "color": "#e3e5f4"},{"offset": 0.934, "color": "#3a3f8e"},{"offset": 0.942, "color": "#3a3f8e"},{"offset": 0.942, "color": "#e3e5f4"},{"offset": 0.976, "color": "#e3e5f4"},{"offset": 0.976, "color": "#3a3f8e"},{"offset": 0.984, "color": "#3a3f8e"},{"offset": 0.984, "color": "#e3e5f4"},{"offset": 1, "color": "#e3e5f4"}]}}, "encoding": {"x": {"field": "ch", "type": "quantitative", "scale": {"domain": [0, 150], "nice": false}, "axis": {"orient": "bottom", "values": [0,6,12,18,24,30,36,42,48,54,60,66,72,78,84,90,96,102,108,114,120,126,132,138,144,150], "labels": false, "title": null, "tickSize": 5, "domain": false}}, "y": {"field": "count", "type": "quantitative", "stack": null, "scale": {"domain": [0, 692], "nice": false}, "axis": {"orient": "left", "values": [0,20,40,60,80,100,120,140,160,180,200,220,240,260,280,300,320,340,360,380,400,420,440,460,480,500,520,540,560,580,600,620,640,660,680], "labels": false, "title": null, "tickSize": 4, "domain": false}}}},
{"transform": [{"filter": "datum.part === 'g1'"}], "mark": {"type": "area", "fill": "#ff0000", "stroke": "#000", "strokeWidth": 0.8, "interpolate": "monotone"}, "encoding": {"x": {"field": "ch", "type": "quantitative", "axis": null}, "y": {"field": "count", "type": "quantitative", "stack": null, "axis": null}}},
{"transform": [{"filter": "datum.part === 'o'"}], "mark": {"type": "area", "stroke": "#4a0000", "strokeWidth": 0.6, "fill": {"gradient": "linear", "x1": 0, "y1": 0.75, "x2": 1, "y2": 0.25, "stops": [{"offset": 0, "color": "#f00000"},{"offset": 0.02, "color": "#f00000"},{"offset": 0.02, "color": "#7a0000"},{"offset": 0.05, "color": "#7a0000"},{"offset": 0.05, "color": "#f00000"},{"offset": 0.20, "color": "#f00000"},{"offset": 0.20, "color": "#7a0000"},{"offset": 0.23, "color": "#7a0000"},{"offset": 0.23, "color": "#f00000"},{"offset": 0.38, "color": "#f00000"},{"offset": 0.38, "color": "#7a0000"},{"offset": 0.41, "color": "#7a0000"},{"offset": 0.41, "color": "#f00000"},{"offset": 0.56, "color": "#f00000"},{"offset": 0.56, "color": "#7a0000"},{"offset": 0.59, "color": "#7a0000"},{"offset": 0.59, "color": "#f00000"},{"offset": 0.74, "color": "#f00000"},{"offset": 0.74, "color": "#7a0000"},{"offset": 0.77, "color": "#7a0000"},{"offset": 0.77, "color": "#f00000"},{"offset": 0.92, "color": "#f00000"},{"offset": 0.92, "color": "#7a0000"},{"offset": 0.95, "color": "#7a0000"},{"offset": 0.95, "color": "#f00000"},{"offset": 1, "color": "#f00000"}]}}, "encoding": {"x": {"field": "ch", "type": "quantitative", "axis": null}, "y": {"field": "count", "type": "quantitative", "stack": null, "axis": null}}},
{"transform": [{"filter": "datum.part === 'g2'"}], "mark": {"type": "area", "fill": "#ff0000", "stroke": "#000", "strokeWidth": 0.8, "interpolate": "monotone"}, "encoding": {"x": {"field": "ch", "type": "quantitative", "axis": null}, "y": {"field": "count", "type": "quantitative", "stack": null, "axis": null}}},
{"transform": [{"filter": "datum.part === 'r'"}], "mark": {"type": "line", "color": "#000", "strokeWidth": 0.8}, "encoding": {"x": {"field": "ch", "type": "quantitative", "axis": {"orient": "bottom", "values": [0,30,60,90,120,150], "title": "Channels (PE-A)", "tickSize": 8, "labelFontSize": 10, "labelPadding": 1, "titleFontSize": 12, "titlePadding": -1}}, "y": {"field": "count", "type": "quantitative", "axis": {"orient": "left", "values": [0,100,200,300,400,500,600], "title": "Number", "tickSize": 7, "labelAngle": -90, "labelAlign": "center", "labelBaseline": "bottom", "labelFontSize": 8, "labelPadding": 1, "titleFontSize": 12, "titlePadding": 3}}}},
{"transform": [{"filter": "datum.part === 't'"}], "mark": {"type": "text", "align": "left", "baseline": "middle", "font": "Lato", "fontSize": 24, "fontWeight": "bold", "color": "#000"}, "encoding": {"x": {"field": "ch", "type": "quantitative", "axis": null}, "y": {"field": "count", "type": "quantitative", "axis": null}, "text": {"field": "label"}}}
]
},
{
"width": 346, "height": 299, "data": {"name": "p3"}, "title": {"text": "wn-MSN@PEG", "dx": 5, "offset": -6},
"resolve": {"axis": {"x": "independent", "y": "independent"}},
"layer": [
{"transform": [{"filter": "datum.part === 's'"}], "mark": {"type": "area", "stroke": "#333", "strokeWidth": 0.8, "fill": {"gradient": "linear", "x1": 0, "y1": 0.55, "x2": 1, "y2": 0.45, "stops": [{"offset": 0, "color": "#e3e5f4"},{"offset": 0.010, "color": "#e3e5f4"},{"offset": 0.010, "color": "#3a3f8e"},{"offset": 0.018, "color": "#3a3f8e"},{"offset": 0.018, "color": "#e3e5f4"},{"offset": 0.052, "color": "#e3e5f4"},{"offset": 0.052, "color": "#3a3f8e"},{"offset": 0.060, "color": "#3a3f8e"},{"offset": 0.060, "color": "#e3e5f4"},{"offset": 0.094, "color": "#e3e5f4"},{"offset": 0.094, "color": "#3a3f8e"},{"offset": 0.102, "color": "#3a3f8e"},{"offset": 0.102, "color": "#e3e5f4"},{"offset": 0.136, "color": "#e3e5f4"},{"offset": 0.136, "color": "#3a3f8e"},{"offset": 0.144, "color": "#3a3f8e"},{"offset": 0.144, "color": "#e3e5f4"},{"offset": 0.178, "color": "#e3e5f4"},{"offset": 0.178, "color": "#3a3f8e"},{"offset": 0.186, "color": "#3a3f8e"},{"offset": 0.186, "color": "#e3e5f4"},{"offset": 0.220, "color": "#e3e5f4"},{"offset": 0.220, "color": "#3a3f8e"},{"offset": 0.228, "color": "#3a3f8e"},{"offset": 0.228, "color": "#e3e5f4"},{"offset": 0.262, "color": "#e3e5f4"},{"offset": 0.262, "color": "#3a3f8e"},{"offset": 0.270, "color": "#3a3f8e"},{"offset": 0.270, "color": "#e3e5f4"},{"offset": 0.304, "color": "#e3e5f4"},{"offset": 0.304, "color": "#3a3f8e"},{"offset": 0.312, "color": "#3a3f8e"},{"offset": 0.312, "color": "#e3e5f4"},{"offset": 0.346, "color": "#e3e5f4"},{"offset": 0.346, "color": "#3a3f8e"},{"offset": 0.354, "color": "#3a3f8e"},{"offset": 0.354, "color": "#e3e5f4"},{"offset": 0.388, "color": "#e3e5f4"},{"offset": 0.388, "color": "#3a3f8e"},{"offset": 0.396, "color": "#3a3f8e"},{"offset": 0.396, "color": "#e3e5f4"},{"offset": 0.430, "color": "#e3e5f4"},{"offset": 0.430, "color": "#3a3f8e"},{"offset": 0.438, "color": "#3a3f8e"},{"offset": 0.438, "color": "#e3e5f4"},{"offset": 0.472, "color": "#e3e5f4"},{"offset": 0.472, "color": "#3a3f8e"},{"offset": 0.480, "color": "#3a3f8e"},{"offset": 0.480, "color": "#e3e5f4"},{"offset": 0.514, "color": "#e3e5f4"},{"offset": 0.514, "color": "#3a3f8e"},{"offset": 0.522, "color": "#3a3f8e"},{"offset": 0.522, "color": "#e3e5f4"},{"offset": 0.556, "color": "#e3e5f4"},{"offset": 0.556, "color": "#3a3f8e"},{"offset": 0.564, "color": "#3a3f8e"},{"offset": 0.564, "color": "#e3e5f4"},{"offset": 0.598, "color": "#e3e5f4"},{"offset": 0.598, "color": "#3a3f8e"},{"offset": 0.606, "color": "#3a3f8e"},{"offset": 0.606, "color": "#e3e5f4"},{"offset": 0.640, "color": "#e3e5f4"},{"offset": 0.640, "color": "#3a3f8e"},{"offset": 0.648, "color": "#3a3f8e"},{"offset": 0.648, "color": "#e3e5f4"},{"offset": 0.682, "color": "#e3e5f4"},{"offset": 0.682, "color": "#3a3f8e"},{"offset": 0.690, "color": "#3a3f8e"},{"offset": 0.690, "color": "#e3e5f4"},{"offset": 0.724, "color": "#e3e5f4"},{"offset": 0.724, "color": "#3a3f8e"},{"offset": 0.732, "color": "#3a3f8e"},{"offset": 0.732, "color": "#e3e5f4"},{"offset": 0.766, "color": "#e3e5f4"},{"offset": 0.766, "color": "#3a3f8e"},{"offset": 0.774, "color": "#3a3f8e"},{"offset": 0.774, "color": "#e3e5f4"},{"offset": 0.808, "color": "#e3e5f4"},{"offset": 0.808, "color": "#3a3f8e"},{"offset": 0.816, "color": "#3a3f8e"},{"offset": 0.816, "color": "#e3e5f4"},{"offset": 0.850, "color": "#e3e5f4"},{"offset": 0.850, "color": "#3a3f8e"},{"offset": 0.858, "color": "#3a3f8e"},{"offset": 0.858, "color": "#e3e5f4"},{"offset": 0.892, "color": "#e3e5f4"},{"offset": 0.892, "color": "#3a3f8e"},{"offset": 0.900, "color": "#3a3f8e"},{"offset": 0.900, "color": "#e3e5f4"},{"offset": 0.934, "color": "#e3e5f4"},{"offset": 0.934, "color": "#3a3f8e"},{"offset": 0.942, "color": "#3a3f8e"},{"offset": 0.942, "color": "#e3e5f4"},{"offset": 0.976, "color": "#e3e5f4"},{"offset": 0.976, "color": "#3a3f8e"},{"offset": 0.984, "color": "#3a3f8e"},{"offset": 0.984, "color": "#e3e5f4"},{"offset": 1, "color": "#e3e5f4"}]}}, "encoding": {"x": {"field": "ch", "type": "quantitative", "scale": {"domain": [0, 120], "nice": false}, "axis": {"orient": "bottom", "values": [0,4,8,12,16,20,24,28,32,36,40,44,48,52,56,60,64,68,72,76,80,84,88,92,96,100,104,108,112,116,120], "labels": false, "title": null, "tickSize": 5, "domain": false}}, "y": {"field": "count", "type": "quantitative", "stack": null, "scale": {"domain": [0, 595], "nice": false}, "axis": {"orient": "left", "values": [0,20,40,60,80,100,120,140,160,180,200,220,240,260,280,300,320,340,360,380,400,420,440,460,480,500,520,540,560,580], "labels": false, "title": null, "tickSize": 4, "domain": false}}}},
{"transform": [{"filter": "datum.part === 'g1'"}], "mark": {"type": "area", "fill": "#ff0000", "stroke": "#000", "strokeWidth": 0.8, "interpolate": "monotone"}, "encoding": {"x": {"field": "ch", "type": "quantitative", "axis": null}, "y": {"field": "count", "type": "quantitative", "stack": null, "axis": null}}},
{"transform": [{"filter": "datum.part === 'o'"}], "mark": {"type": "area", "stroke": "#4a0000", "strokeWidth": 0.6, "fill": {"gradient": "linear", "x1": 0, "y1": 0.75, "x2": 1, "y2": 0.25, "stops": [{"offset": 0, "color": "#f00000"},{"offset": 0.02, "color": "#f00000"},{"offset": 0.02, "color": "#7a0000"},{"offset": 0.05, "color": "#7a0000"},{"offset": 0.05, "color": "#f00000"},{"offset": 0.20, "color": "#f00000"},{"offset": 0.20, "color": "#7a0000"},{"offset": 0.23, "color": "#7a0000"},{"offset": 0.23, "color": "#f00000"},{"offset": 0.38, "color": "#f00000"},{"offset": 0.38, "color": "#7a0000"},{"offset": 0.41, "color": "#7a0000"},{"offset": 0.41, "color": "#f00000"},{"offset": 0.56, "color": "#f00000"},{"offset": 0.56, "color": "#7a0000"},{"offset": 0.59, "color": "#7a0000"},{"offset": 0.59, "color": "#f00000"},{"offset": 0.74, "color": "#f00000"},{"offset": 0.74, "color": "#7a0000"},{"offset": 0.77, "color": "#7a0000"},{"offset": 0.77, "color": "#f00000"},{"offset": 0.92, "color": "#f00000"},{"offset": 0.92, "color": "#7a0000"},{"offset": 0.95, "color": "#7a0000"},{"offset": 0.95, "color": "#f00000"},{"offset": 1, "color": "#f00000"}]}}, "encoding": {"x": {"field": "ch", "type": "quantitative", "axis": null}, "y": {"field": "count", "type": "quantitative", "stack": null, "axis": null}}},
{"transform": [{"filter": "datum.part === 'g2'"}], "mark": {"type": "area", "fill": "#ff0000", "stroke": "#000", "strokeWidth": 0.8, "interpolate": "monotone"}, "encoding": {"x": {"field": "ch", "type": "quantitative", "axis": null}, "y": {"field": "count", "type": "quantitative", "stack": null, "axis": null}}},
{"transform": [{"filter": "datum.part === 'r'"}], "mark": {"type": "line", "color": "#000", "strokeWidth": 0.8}, "encoding": {"x": {"field": "ch", "type": "quantitative", "axis": {"orient": "bottom", "values": [0,20,40,60,80,100,120], "title": "Channels (PE-A)", "tickSize": 8, "labelFontSize": 10, "labelPadding": 1, "titleFontSize": 12, "titlePadding": -1}}, "y": {"field": "count", "type": "quantitative", "axis": {"orient": "left", "values": [0,100,200,300,400,500], "title": "Number", "tickSize": 7, "labelAngle": -90, "labelAlign": "center", "labelBaseline": "bottom", "labelFontSize": 8, "labelPadding": 1, "titleFontSize": 12, "titlePadding": 3}}}},
{"transform": [{"filter": "datum.part === 't'"}], "mark": {"type": "text", "align": "left", "baseline": "middle", "font": "Lato", "fontSize": 24, "fontWeight": "bold", "color": "#000"}, "encoding": {"x": {"field": "ch", "type": "quantitative", "axis": null}, "y": {"field": "count", "type": "quantitative", "axis": null}, "text": {"field": "label"}}}
]
},
{
"width": 346, "height": 301, "data": {"name": "p4"}, "title": {"text": "sn-MSN@PEG/THPMP", "dx": -8},
"resolve": {"axis": {"x": "independent", "y": "independent"}},
"layer": [
{"transform": [{"filter": "datum.part === 's'"}], "mark": {"type": "area", "stroke": "#333", "strokeWidth": 0.8, "fill": {"gradient": "linear", "x1": 0, "y1": 0.55, "x2": 1, "y2": 0.45, "stops": [{"offset": 0, "color": "#e3e5f4"},{"offset": 0.010, "color": "#e3e5f4"},{"offset": 0.010, "color": "#3a3f8e"},{"offset": 0.018, "color": "#3a3f8e"},{"offset": 0.018, "color": "#e3e5f4"},{"offset": 0.052, "color": "#e3e5f4"},{"offset": 0.052, "color": "#3a3f8e"},{"offset": 0.060, "color": "#3a3f8e"},{"offset": 0.060, "color": "#e3e5f4"},{"offset": 0.094, "color": "#e3e5f4"},{"offset": 0.094, "color": "#3a3f8e"},{"offset": 0.102, "color": "#3a3f8e"},{"offset": 0.102, "color": "#e3e5f4"},{"offset": 0.136, "color": "#e3e5f4"},{"offset": 0.136, "color": "#3a3f8e"},{"offset": 0.144, "color": "#3a3f8e"},{"offset": 0.144, "color": "#e3e5f4"},{"offset": 0.178, "color": "#e3e5f4"},{"offset": 0.178, "color": "#3a3f8e"},{"offset": 0.186, "color": "#3a3f8e"},{"offset": 0.186, "color": "#e3e5f4"},{"offset": 0.220, "color": "#e3e5f4"},{"offset": 0.220, "color": "#3a3f8e"},{"offset": 0.228, "color": "#3a3f8e"},{"offset": 0.228, "color": "#e3e5f4"},{"offset": 0.262, "color": "#e3e5f4"},{"offset": 0.262, "color": "#3a3f8e"},{"offset": 0.270, "color": "#3a3f8e"},{"offset": 0.270, "color": "#e3e5f4"},{"offset": 0.304, "color": "#e3e5f4"},{"offset": 0.304, "color": "#3a3f8e"},{"offset": 0.312, "color": "#3a3f8e"},{"offset": 0.312, "color": "#e3e5f4"},{"offset": 0.346, "color": "#e3e5f4"},{"offset": 0.346, "color": "#3a3f8e"},{"offset": 0.354, "color": "#3a3f8e"},{"offset": 0.354, "color": "#e3e5f4"},{"offset": 0.388, "color": "#e3e5f4"},{"offset": 0.388, "color": "#3a3f8e"},{"offset": 0.396, "color": "#3a3f8e"},{"offset": 0.396, "color": "#e3e5f4"},{"offset": 0.430, "color": "#e3e5f4"},{"offset": 0.430, "color": "#3a3f8e"},{"offset": 0.438, "color": "#3a3f8e"},{"offset": 0.438, "color": "#e3e5f4"},{"offset": 0.472, "color": "#e3e5f4"},{"offset": 0.472, "color": "#3a3f8e"},{"offset": 0.480, "color": "#3a3f8e"},{"offset": 0.480, "color": "#e3e5f4"},{"offset": 0.514, "color": "#e3e5f4"},{"offset": 0.514, "color": "#3a3f8e"},{"offset": 0.522, "color": "#3a3f8e"},{"offset": 0.522, "color": "#e3e5f4"},{"offset": 0.556, "color": "#e3e5f4"},{"offset": 0.556, "color": "#3a3f8e"},{"offset": 0.564, "color": "#3a3f8e"},{"offset": 0.564, "color": "#e3e5f4"},{"offset": 0.598, "color": "#e3e5f4"},{"offset": 0.598, "color": "#3a3f8e"},{"offset": 0.606, "color": "#3a3f8e"},{"offset": 0.606, "color": "#e3e5f4"},{"offset": 0.640, "color": "#e3e5f4"},{"offset": 0.640, "color": "#3a3f8e"},{"offset": 0.648, "color": "#3a3f8e"},{"offset": 0.648, "color": "#e3e5f4"},{"offset": 0.682, "color": "#e3e5f4"},{"offset": 0.682, "color": "#3a3f8e"},{"offset": 0.690, "color": "#3a3f8e"},{"offset": 0.690, "color": "#e3e5f4"},{"offset": 0.724, "color": "#e3e5f4"},{"offset": 0.724, "color": "#3a3f8e"},{"offset": 0.732, "color": "#3a3f8e"},{"offset": 0.732, "color": "#e3e5f4"},{"offset": 0.766, "color": "#e3e5f4"},{"offset": 0.766, "color": "#3a3f8e"},{"offset": 0.774, "color": "#3a3f8e"},{"offset": 0.774, "color": "#e3e5f4"},{"offset": 0.808, "color": "#e3e5f4"},{"offset": 0.808, "color": "#3a3f8e"},{"offset": 0.816, "color": "#3a3f8e"},{"offset": 0.816, "color": "#e3e5f4"},{"offset": 0.850, "color": "#e3e5f4"},{"offset": 0.850, "color": "#3a3f8e"},{"offset": 0.858, "color": "#3a3f8e"},{"offset": 0.858, "color": "#e3e5f4"},{"offset": 0.892, "color": "#e3e5f4"},{"offset": 0.892, "color": "#3a3f8e"},{"offset": 0.900, "color": "#3a3f8e"},{"offset": 0.900, "color": "#e3e5f4"},{"offset": 0.934, "color": "#e3e5f4"},{"offset": 0.934, "color": "#3a3f8e"},{"offset": 0.942, "color": "#3a3f8e"},{"offset": 0.942, "color": "#e3e5f4"},{"offset": 0.976, "color": "#e3e5f4"},{"offset": 0.976, "color": "#3a3f8e"},{"offset": 0.984, "color": "#3a3f8e"},{"offset": 0.984, "color": "#e3e5f4"},{"offset": 1, "color": "#e3e5f4"}]}}, "encoding": {"x": {"field": "ch", "type": "quantitative", "scale": {"domain": [0, 120], "nice": false}, "axis": {"orient": "bottom", "values": [0,4,8,12,16,20,24,28,32,36,40,44,48,52,56,60,64,68,72,76,80,84,88,92,96,100,104,108,112,116,120], "labels": false, "title": null, "tickSize": 5, "domain": false}}, "y": {"field": "count", "type": "quantitative", "stack": null, "scale": {"domain": [0, 698], "nice": false}, "axis": {"orient": "left", "values": [0,20,40,60,80,100,120,140,160,180,200,220,240,260,280,300,320,340,360,380,400,420,440,460,480,500,520,540,560,580,600,620,640,660,680], "labels": false, "title": null, "tickSize": 4, "domain": false}}}},
{"transform": [{"filter": "datum.part === 'g1'"}], "mark": {"type": "area", "fill": "#ff0000", "stroke": "#000", "strokeWidth": 0.8, "interpolate": "monotone"}, "encoding": {"x": {"field": "ch", "type": "quantitative", "axis": null}, "y": {"field": "count", "type": "quantitative", "stack": null, "axis": null}}},
{"transform": [{"filter": "datum.part === 'o'"}], "mark": {"type": "area", "stroke": "#4a0000", "strokeWidth": 0.6, "fill": {"gradient": "linear", "x1": 0, "y1": 0.75, "x2": 1, "y2": 0.25, "stops": [{"offset": 0, "color": "#f00000"},{"offset": 0.02, "color": "#f00000"},{"offset": 0.02, "color": "#7a0000"},{"offset": 0.05, "color": "#7a0000"},{"offset": 0.05, "color": "#f00000"},{"offset": 0.20, "color": "#f00000"},{"offset": 0.20, "color": "#7a0000"},{"offset": 0.23, "color": "#7a0000"},{"offset": 0.23, "color": "#f00000"},{"offset": 0.38, "color": "#f00000"},{"offset": 0.38, "color": "#7a0000"},{"offset": 0.41, "color": "#7a0000"},{"offset": 0.41, "color": "#f00000"},{"offset": 0.56, "color": "#f00000"},{"offset": 0.56, "color": "#7a0000"},{"offset": 0.59, "color": "#7a0000"},{"offset": 0.59, "color": "#f00000"},{"offset": 0.74, "color": "#f00000"},{"offset": 0.74, "color": "#7a0000"},{"offset": 0.77, "color": "#7a0000"},{"offset": 0.77, "color": "#f00000"},{"offset": 0.92, "color": "#f00000"},{"offset": 0.92, "color": "#7a0000"},{"offset": 0.95, "color": "#7a0000"},{"offset": 0.95, "color": "#f00000"},{"offset": 1, "color": "#f00000"}]}}, "encoding": {"x": {"field": "ch", "type": "quantitative", "axis": null}, "y": {"field": "count", "type": "quantitative", "stack": null, "axis": null}}},
{"transform": [{"filter": "datum.part === 'g2'"}], "mark": {"type": "area", "fill": "#ff0000", "stroke": "#000", "strokeWidth": 0.8, "interpolate": "monotone"}, "encoding": {"x": {"field": "ch", "type": "quantitative", "axis": null}, "y": {"field": "count", "type": "quantitative", "stack": null, "axis": null}}},
{"transform": [{"filter": "datum.part === 'r'"}], "mark": {"type": "line", "color": "#000", "strokeWidth": 0.8}, "encoding": {"x": {"field": "ch", "type": "quantitative", "axis": {"orient": "bottom", "values": [0,20,40,60,80,100,120], "title": "Channels (PE-A)", "tickSize": 8, "labelFontSize": 10, "labelPadding": 1, "titleFontSize": 12, "titlePadding": -1}}, "y": {"field": "count", "type": "quantitative", "axis": {"orient": "left", "values": [0,100,200,300,400,500,600], "title": "Number", "tickSize": 7, "labelAngle": -90, "labelAlign": "center", "labelBaseline": "bottom", "labelFontSize": 8, "labelPadding": 1, "titleFontSize": 12, "titlePadding": 3}}}},
{"transform": [{"filter": "datum.part === 't'"}], "mark": {"type": "text", "align": "left", "baseline": "middle", "font": "Lato", "fontSize": 24, "fontWeight": "bold", "color": "#000"}, "encoding": {"x": {"field": "ch", "type": "quantitative", "axis": null}, "y": {"field": "count", "type": "quantitative", "axis": null}, "text": {"field": "label"}}}
]
},
{
"width": 346, "height": 301, "data": {"name": "p5"}, "title": {"text": "wp-MSN@PEG/TMAC", "dx": -9},
"resolve": {"axis": {"x": "independent", "y": "independent"}},
"layer": [
{"transform": [{"filter": "datum.part === 's'"}], "mark": {"type": "area", "stroke": "#333", "strokeWidth": 0.8, "fill": {"gradient": "linear", "x1": 0, "y1": 0.55, "x2": 1, "y2": 0.45, "stops": [{"offset": 0, "color": "#e3e5f4"},{"offset": 0.010, "color": "#e3e5f4"},{"offset": 0.010, "color": "#3a3f8e"},{"offset": 0.018, "color": "#3a3f8e"},{"offset": 0.018, "color": "#e3e5f4"},{"offset": 0.052, "color": "#e3e5f4"},{"offset": 0.052, "color": "#3a3f8e"},{"offset": 0.060, "color": "#3a3f8e"},{"offset": 0.060, "color": "#e3e5f4"},{"offset": 0.094, "color": "#e3e5f4"},{"offset": 0.094, "color": "#3a3f8e"},{"offset": 0.102, "color": "#3a3f8e"},{"offset": 0.102, "color": "#e3e5f4"},{"offset": 0.136, "color": "#e3e5f4"},{"offset": 0.136, "color": "#3a3f8e"},{"offset": 0.144, "color": "#3a3f8e"},{"offset": 0.144, "color": "#e3e5f4"},{"offset": 0.178, "color": "#e3e5f4"},{"offset": 0.178, "color": "#3a3f8e"},{"offset": 0.186, "color": "#3a3f8e"},{"offset": 0.186, "color": "#e3e5f4"},{"offset": 0.220, "color": "#e3e5f4"},{"offset": 0.220, "color": "#3a3f8e"},{"offset": 0.228, "color": "#3a3f8e"},{"offset": 0.228, "color": "#e3e5f4"},{"offset": 0.262, "color": "#e3e5f4"},{"offset": 0.262, "color": "#3a3f8e"},{"offset": 0.270, "color": "#3a3f8e"},{"offset": 0.270, "color": "#e3e5f4"},{"offset": 0.304, "color": "#e3e5f4"},{"offset": 0.304, "color": "#3a3f8e"},{"offset": 0.312, "color": "#3a3f8e"},{"offset": 0.312, "color": "#e3e5f4"},{"offset": 0.346, "color": "#e3e5f4"},{"offset": 0.346, "color": "#3a3f8e"},{"offset": 0.354, "color": "#3a3f8e"},{"offset": 0.354, "color": "#e3e5f4"},{"offset": 0.388, "color": "#e3e5f4"},{"offset": 0.388, "color": "#3a3f8e"},{"offset": 0.396, "color": "#3a3f8e"},{"offset": 0.396, "color": "#e3e5f4"},{"offset": 0.430, "color": "#e3e5f4"},{"offset": 0.430, "color": "#3a3f8e"},{"offset": 0.438, "color": "#3a3f8e"},{"offset": 0.438, "color": "#e3e5f4"},{"offset": 0.472, "color": "#e3e5f4"},{"offset": 0.472, "color": "#3a3f8e"},{"offset": 0.480, "color": "#3a3f8e"},{"offset": 0.480, "color": "#e3e5f4"},{"offset": 0.514, "color": "#e3e5f4"},{"offset": 0.514, "color": "#3a3f8e"},{"offset": 0.522, "color": "#3a3f8e"},{"offset": 0.522, "color": "#e3e5f4"},{"offset": 0.556, "color": "#e3e5f4"},{"offset": 0.556, "color": "#3a3f8e"},{"offset": 0.564, "color": "#3a3f8e"},{"offset": 0.564, "color": "#e3e5f4"},{"offset": 0.598, "color": "#e3e5f4"},{"offset": 0.598, "color": "#3a3f8e"},{"offset": 0.606, "color": "#3a3f8e"},{"offset": 0.606, "color": "#e3e5f4"},{"offset": 0.640, "color": "#e3e5f4"},{"offset": 0.640, "color": "#3a3f8e"},{"offset": 0.648, "color": "#3a3f8e"},{"offset": 0.648, "color": "#e3e5f4"},{"offset": 0.682, "color": "#e3e5f4"},{"offset": 0.682, "color": "#3a3f8e"},{"offset": 0.690, "color": "#3a3f8e"},{"offset": 0.690, "color": "#e3e5f4"},{"offset": 0.724, "color": "#e3e5f4"},{"offset": 0.724, "color": "#3a3f8e"},{"offset": 0.732, "color": "#3a3f8e"},{"offset": 0.732, "color": "#e3e5f4"},{"offset": 0.766, "color": "#e3e5f4"},{"offset": 0.766, "color": "#3a3f8e"},{"offset": 0.774, "color": "#3a3f8e"},{"offset": 0.774, "color": "#e3e5f4"},{"offset": 0.808, "color": "#e3e5f4"},{"offset": 0.808, "color": "#3a3f8e"},{"offset": 0.816, "color": "#3a3f8e"},{"offset": 0.816, "color": "#e3e5f4"},{"offset": 0.850, "color": "#e3e5f4"},{"offset": 0.850, "color": "#3a3f8e"},{"offset": 0.858, "color": "#3a3f8e"},{"offset": 0.858, "color": "#e3e5f4"},{"offset": 0.892, "color": "#e3e5f4"},{"offset": 0.892, "color": "#3a3f8e"},{"offset": 0.900, "color": "#3a3f8e"},{"offset": 0.900, "color": "#e3e5f4"},{"offset": 0.934, "color": "#e3e5f4"},{"offset": 0.934, "color": "#3a3f8e"},{"offset": 0.942, "color": "#3a3f8e"},{"offset": 0.942, "color": "#e3e5f4"},{"offset": 0.976, "color": "#e3e5f4"},{"offset": 0.976, "color": "#3a3f8e"},{"offset": 0.984, "color": "#3a3f8e"},{"offset": 0.984, "color": "#e3e5f4"},{"offset": 1, "color": "#e3e5f4"}]}}, "encoding": {"x": {"field": "ch", "type": "quantitative", "scale": {"domain": [0, 120], "nice": false}, "axis": {"orient": "bottom", "values": [0,4,8,12,16,20,24,28,32,36,40,44,48,52,56,60,64,68,72,76,80,84,88,92,96,100,104,108,112,116,120], "labels": false, "title": null, "tickSize": 5, "domain": false}}, "y": {"field": "count", "type": "quantitative", "stack": null, "scale": {"domain": [0, 795], "nice": false}, "axis": {"orient": "left", "values": [0,40,80,120,160,200,240,280,320,360,400,440,480,520,560,600,640,680,720,760], "labels": false, "title": null, "tickSize": 4, "domain": false}}}},
{"transform": [{"filter": "datum.part === 'g1'"}], "mark": {"type": "area", "fill": "#ff0000", "stroke": "#000", "strokeWidth": 0.8, "interpolate": "monotone"}, "encoding": {"x": {"field": "ch", "type": "quantitative", "axis": null}, "y": {"field": "count", "type": "quantitative", "stack": null, "axis": null}}},
{"transform": [{"filter": "datum.part === 'o'"}], "mark": {"type": "area", "stroke": "#4a0000", "strokeWidth": 0.6, "fill": {"gradient": "linear", "x1": 0, "y1": 0.75, "x2": 1, "y2": 0.25, "stops": [{"offset": 0, "color": "#f00000"},{"offset": 0.02, "color": "#f00000"},{"offset": 0.02, "color": "#7a0000"},{"offset": 0.05, "color": "#7a0000"},{"offset": 0.05, "color": "#f00000"},{"offset": 0.20, "color": "#f00000"},{"offset": 0.20, "color": "#7a0000"},{"offset": 0.23, "color": "#7a0000"},{"offset": 0.23, "color": "#f00000"},{"offset": 0.38, "color": "#f00000"},{"offset": 0.38, "color": "#7a0000"},{"offset": 0.41, "color": "#7a0000"},{"offset": 0.41, "color": "#f00000"},{"offset": 0.56, "color": "#f00000"},{"offset": 0.56, "color": "#7a0000"},{"offset": 0.59, "color": "#7a0000"},{"offset": 0.59, "color": "#f00000"},{"offset": 0.74, "color": "#f00000"},{"offset": 0.74, "color": "#7a0000"},{"offset": 0.77, "color": "#7a0000"},{"offset": 0.77, "color": "#f00000"},{"offset": 0.92, "color": "#f00000"},{"offset": 0.92, "color": "#7a0000"},{"offset": 0.95, "color": "#7a0000"},{"offset": 0.95, "color": "#f00000"},{"offset": 1, "color": "#f00000"}]}}, "encoding": {"x": {"field": "ch", "type": "quantitative", "axis": null}, "y": {"field": "count", "type": "quantitative", "stack": null, "axis": null}}},
{"transform": [{"filter": "datum.part === 'g2'"}], "mark": {"type": "area", "fill": "#ff0000", "stroke": "#000", "strokeWidth": 0.8, "interpolate": "monotone"}, "encoding": {"x": {"field": "ch", "type": "quantitative", "axis": null}, "y": {"field": "count", "type": "quantitative", "stack": null, "axis": null}}},
{"transform": [{"filter": "datum.part === 'r'"}], "mark": {"type": "line", "color": "#000", "strokeWidth": 0.8}, "encoding": {"x": {"field": "ch", "type": "quantitative", "axis": {"orient": "bottom", "values": [0,20,40,60,80,100,120], "title": "Channels (PE-A)", "tickSize": 8, "labelFontSize": 10, "labelPadding": 1, "titleFontSize": 12, "titlePadding": -1}}, "y": {"field": "count", "type": "quantitative", "axis": {"orient": "left", "values": [0,200,400,600], "title": "Number", "tickSize": 7, "labelAngle": -90, "labelAlign": "center", "labelBaseline": "bottom", "labelFontSize": 8, "labelPadding": 1, "titleFontSize": 12, "titlePadding": 3}}}},
{"transform": [{"filter": "datum.part === 't'"}], "mark": {"type": "text", "align": "left", "baseline": "middle", "font": "Lato", "fontSize": 24, "fontWeight": "bold", "color": "#000"}, "encoding": {"x": {"field": "ch", "type": "quantitative", "axis": null}, "y": {"field": "count", "type": "quantitative", "axis": null}, "text": {"field": "label"}}}
]
},
{
"width": 346, "height": 301, "data": {"name": "p6"}, "title": {"text": "sp-MSN@PEG/TMAC", "dx": -4},
"resolve": {"axis": {"x": "independent", "y": "independent"}},
"layer": [
{"transform": [{"filter": "datum.part === 's'"}], "mark": {"type": "area", "stroke": "#333", "strokeWidth": 0.8, "fill": {"gradient": "linear", "x1": 0, "y1": 0.55, "x2": 1, "y2": 0.45, "stops": [{"offset": 0, "color": "#e3e5f4"},{"offset": 0.010, "color": "#e3e5f4"},{"offset": 0.010, "color": "#3a3f8e"},{"offset": 0.018, "color": "#3a3f8e"},{"offset": 0.018, "color": "#e3e5f4"},{"offset": 0.052, "color": "#e3e5f4"},{"offset": 0.052, "color": "#3a3f8e"},{"offset": 0.060, "color": "#3a3f8e"},{"offset": 0.060, "color": "#e3e5f4"},{"offset": 0.094, "color": "#e3e5f4"},{"offset": 0.094, "color": "#3a3f8e"},{"offset": 0.102, "color": "#3a3f8e"},{"offset": 0.102, "color": "#e3e5f4"},{"offset": 0.136, "color": "#e3e5f4"},{"offset": 0.136, "color": "#3a3f8e"},{"offset": 0.144, "color": "#3a3f8e"},{"offset": 0.144, "color": "#e3e5f4"},{"offset": 0.178, "color": "#e3e5f4"},{"offset": 0.178, "color": "#3a3f8e"},{"offset": 0.186, "color": "#3a3f8e"},{"offset": 0.186, "color": "#e3e5f4"},{"offset": 0.220, "color": "#e3e5f4"},{"offset": 0.220, "color": "#3a3f8e"},{"offset": 0.228, "color": "#3a3f8e"},{"offset": 0.228, "color": "#e3e5f4"},{"offset": 0.262, "color": "#e3e5f4"},{"offset": 0.262, "color": "#3a3f8e"},{"offset": 0.270, "color": "#3a3f8e"},{"offset": 0.270, "color": "#e3e5f4"},{"offset": 0.304, "color": "#e3e5f4"},{"offset": 0.304, "color": "#3a3f8e"},{"offset": 0.312, "color": "#3a3f8e"},{"offset": 0.312, "color": "#e3e5f4"},{"offset": 0.346, "color": "#e3e5f4"},{"offset": 0.346, "color": "#3a3f8e"},{"offset": 0.354, "color": "#3a3f8e"},{"offset": 0.354, "color": "#e3e5f4"},{"offset": 0.388, "color": "#e3e5f4"},{"offset": 0.388, "color": "#3a3f8e"},{"offset": 0.396, "color": "#3a3f8e"},{"offset": 0.396, "color": "#e3e5f4"},{"offset": 0.430, "color": "#e3e5f4"},{"offset": 0.430, "color": "#3a3f8e"},{"offset": 0.438, "color": "#3a3f8e"},{"offset": 0.438, "color": "#e3e5f4"},{"offset": 0.472, "color": "#e3e5f4"},{"offset": 0.472, "color": "#3a3f8e"},{"offset": 0.480, "color": "#3a3f8e"},{"offset": 0.480, "color": "#e3e5f4"},{"offset": 0.514, "color": "#e3e5f4"},{"offset": 0.514, "color": "#3a3f8e"},{"offset": 0.522, "color": "#3a3f8e"},{"offset": 0.522, "color": "#e3e5f4"},{"offset": 0.556, "color": "#e3e5f4"},{"offset": 0.556, "color": "#3a3f8e"},{"offset": 0.564, "color": "#3a3f8e"},{"offset": 0.564, "color": "#e3e5f4"},{"offset": 0.598, "color": "#e3e5f4"},{"offset": 0.598, "color": "#3a3f8e"},{"offset": 0.606, "color": "#3a3f8e"},{"offset": 0.606, "color": "#e3e5f4"},{"offset": 0.640, "color": "#e3e5f4"},{"offset": 0.640, "color": "#3a3f8e"},{"offset": 0.648, "color": "#3a3f8e"},{"offset": 0.648, "color": "#e3e5f4"},{"offset": 0.682, "color": "#e3e5f4"},{"offset": 0.682, "color": "#3a3f8e"},{"offset": 0.690, "color": "#3a3f8e"},{"offset": 0.690, "color": "#e3e5f4"},{"offset": 0.724, "color": "#e3e5f4"},{"offset": 0.724, "color": "#3a3f8e"},{"offset": 0.732, "color": "#3a3f8e"},{"offset": 0.732, "color": "#e3e5f4"},{"offset": 0.766, "color": "#e3e5f4"},{"offset": 0.766, "color": "#3a3f8e"},{"offset": 0.774, "color": "#3a3f8e"},{"offset": 0.774, "color": "#e3e5f4"},{"offset": 0.808, "color": "#e3e5f4"},{"offset": 0.808, "color": "#3a3f8e"},{"offset": 0.816, "color": "#3a3f8e"},{"offset": 0.816, "color": "#e3e5f4"},{"offset": 0.850, "color": "#e3e5f4"},{"offset": 0.850, "color": "#3a3f8e"},{"offset": 0.858, "color": "#3a3f8e"},{"offset": 0.858, "color": "#e3e5f4"},{"offset": 0.892, "color": "#e3e5f4"},{"offset": 0.892, "color": "#3a3f8e"},{"offset": 0.900, "color": "#3a3f8e"},{"offset": 0.900, "color": "#e3e5f4"},{"offset": 0.934, "color": "#e3e5f4"},{"offset": 0.934, "color": "#3a3f8e"},{"offset": 0.942, "color": "#3a3f8e"},{"offset": 0.942, "color": "#e3e5f4"},{"offset": 0.976, "color": "#e3e5f4"},{"offset": 0.976, "color": "#3a3f8e"},{"offset": 0.984, "color": "#3a3f8e"},{"offset": 0.984, "color": "#e3e5f4"},{"offset": 1, "color": "#e3e5f4"}]}}, "encoding": {"x": {"field": "ch", "type": "quantitative", "scale": {"domain": [0, 120], "nice": false}, "axis": {"orient": "bottom", "values": [0,4,8,12,16,20,24,28,32,36,40,44,48,52,56,60,64,68,72,76,80,84,88,92,96,100,104,108,112,116,120], "labels": false, "title": null, "tickSize": 5, "domain": false}}, "y": {"field": "count", "type": "quantitative", "stack": null, "scale": {"domain": [0, 600], "nice": false}, "axis": {"orient": "left", "values": [0,20,40,60,80,100,120,140,160,180,200,220,240,260,280,300,320,340,360,380,400,420,440,460,480,500,520,540,560,580,600], "labels": false, "title": null, "tickSize": 4, "domain": false}}}},
{"transform": [{"filter": "datum.part === 'g1'"}], "mark": {"type": "area", "fill": "#ff0000", "stroke": "#000", "strokeWidth": 0.8, "interpolate": "monotone"}, "encoding": {"x": {"field": "ch", "type": "quantitative", "axis": null}, "y": {"field": "count", "type": "quantitative", "stack": null, "axis": null}}},
{"transform": [{"filter": "datum.part === 'o'"}], "mark": {"type": "area", "stroke": "#4a0000", "strokeWidth": 0.6, "fill": {"gradient": "linear", "x1": 0, "y1": 0.75, "x2": 1, "y2": 0.25, "stops": [{"offset": 0, "color": "#f00000"},{"offset": 0.02, "color": "#f00000"},{"offset": 0.02, "color": "#7a0000"},{"offset": 0.05, "color": "#7a0000"},{"offset": 0.05, "color": "#f00000"},{"offset": 0.20, "color": "#f00000"},{"offset": 0.20, "color": "#7a0000"},{"offset": 0.23, "color": "#7a0000"},{"offset": 0.23, "color": "#f00000"},{"offset": 0.38, "color": "#f00000"},{"offset": 0.38, "color": "#7a0000"},{"offset": 0.41, "color": "#7a0000"},{"offset": 0.41, "color": "#f00000"},{"offset": 0.56, "color": "#f00000"},{"offset": 0.56, "color": "#7a0000"},{"offset": 0.59, "color": "#7a0000"},{"offset": 0.59, "color": "#f00000"},{"offset": 0.74, "color": "#f00000"},{"offset": 0.74, "color": "#7a0000"},{"offset": 0.77, "color": "#7a0000"},{"offset": 0.77, "color": "#f00000"},{"offset": 0.92, "color": "#f00000"},{"offset": 0.92, "color": "#7a0000"},{"offset": 0.95, "color": "#7a0000"},{"offset": 0.95, "color": "#f00000"},{"offset": 1, "color": "#f00000"}]}}, "encoding": {"x": {"field": "ch", "type": "quantitative", "axis": null}, "y": {"field": "count", "type": "quantitative", "stack": null, "axis": null}}},
{"transform": [{"filter": "datum.part === 'g2'"}], "mark": {"type": "area", "fill": "#ff0000", "stroke": "#000", "strokeWidth": 0.8, "interpolate": "monotone"}, "encoding": {"x": {"field": "ch", "type": "quantitative", "axis": null}, "y": {"field": "count", "type": "quantitative", "stack": null, "axis": null}}},
{"transform": [{"filter": "datum.part === 'r'"}], "mark": {"type": "line", "color": "#000", "strokeWidth": 0.8}, "encoding": {"x": {"field": "ch", "type": "quantitative", "axis": {"orient": "bottom", "values": [0,20,40,60,80,100,120], "title": "Channels (PE-A)", "tickSize": 8, "labelFontSize": 10, "labelPadding": 1, "titleFontSize": 12, "titlePadding": -1}}, "y": {"field": "count", "type": "quantitative", "axis": {"orient": "left", "values": [0,100,200,300,400,500], "title": "Number", "tickSize": 7, "labelAngle": -90, "labelAlign": "center", "labelBaseline": "bottom", "labelFontSize": 8, "labelPadding": 1, "titleFontSize": 12, "titlePadding": 3}}}},
{"transform": [{"filter": "datum.part === 't'"}], "mark": {"type": "text", "align": "left", "baseline": "middle", "font": "Lato", "fontSize": 24, "fontWeight": "bold", "color": "#000"}, "encoding": {"x": {"field": "ch", "type": "quantitative", "axis": null}, "y": {"field": "count", "type": "quantitative", "axis": null}, "text": {"field": "label"}}}
]
}
]
}
